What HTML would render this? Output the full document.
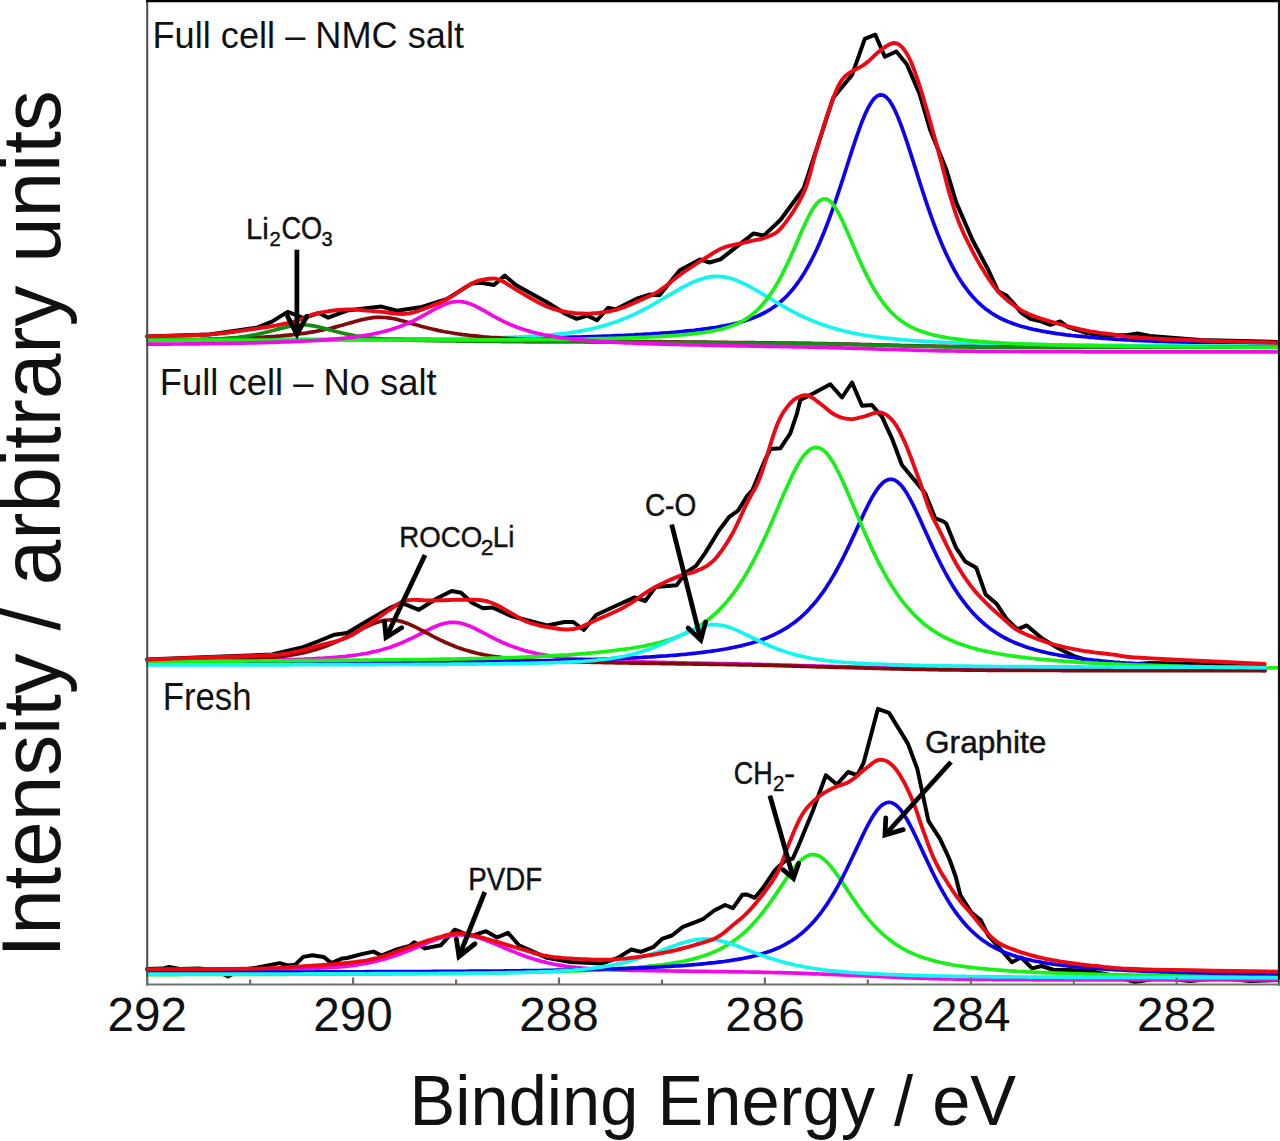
<!DOCTYPE html>
<html><head><meta charset="utf-8"><title>XPS C1s spectra</title><style>html,body{margin:0;padding:0;background:#fff;overflow:hidden}svg{display:block}text{fill:#111}</style></head>
<body><svg width="1280" height="1141" viewBox="0 0 1280 1141"><rect width="1280" height="1141" fill="#fff"/><path d="M147.0,336.5 L209.5,334.6 L256.4,327.8 L272.0,321.6 L287.6,311.9 L297.0,315.3 L303.0,318.0 L318.9,313.0 L328.2,317.7 L347.0,310.6 L381.4,306.6 L397.0,310.8 L422.0,306.9 L447.0,299.0 L472.0,283.4 L481.0,282.7 L493.9,285.0 L504.8,275.6 L515.8,285.0 L547.0,302.3 L565.8,314.0 L576.7,318.8 L587.6,315.6 L597.0,320.3 L608.0,307.8 L615.8,309.4 L637.6,298.4 L650.0,294.5 L659.5,295.3 L679.8,270.3 L700.0,259.4 L709.5,262.5 L720.4,259.4 L734.5,248.4 L747.0,238.7 L753.3,233.5 L763.8,235.6 L780.6,219.8 L803.8,188.2 L833.2,97.8 L852.2,74.7 L864.8,38.9 L875.3,34.7 L884.8,56.8 L896.3,51.5 L906.8,64.2 L919.5,93.6 L930.0,129.4 L946.5,170.0 L956.2,202.4 L972.4,239.7 L988.6,270.5 L998.3,291.6 L1006.5,295.6 L1014.6,304.5 L1021.0,312.6 L1030.8,319.1 L1038.9,320.7 L1050.2,324.8 L1060.0,321.5 L1068.0,327.2 L1085.9,332.9 L1102.0,335.3 L1126.4,335.3 L1137.5,333.5 L1150.0,336.0 L1200.0,340.0 L1277.0,342.0" fill="none" stroke="#000" stroke-width="4.0" stroke-linejoin="round" stroke-linecap="round" />
<path d="M148.0,340.0 L151.0,340.0 L154.0,340.0 L157.0,340.0 L160.0,340.0 L163.0,340.0 L166.0,340.0 L169.0,340.0 L172.0,340.0 L175.0,340.0 L178.0,339.9 L181.0,339.9 L184.0,339.9 L187.0,339.9 L190.0,339.9 L193.0,339.9 L196.0,339.9 L199.0,339.9 L202.0,339.9 L205.0,339.9 L208.0,339.9 L211.0,339.9 L214.0,339.8 L217.0,339.8 L220.0,339.8 L223.0,339.8 L226.0,339.8 L229.0,339.8 L232.0,339.8 L235.0,339.8 L238.0,339.8 L241.0,339.8 L244.0,339.8 L247.0,339.8 L250.0,339.7 L253.0,339.7 L256.0,339.7 L259.0,339.7 L262.0,339.7 L265.0,339.7 L268.0,339.7 L271.0,339.7 L274.0,339.7 L277.0,339.7 L280.0,339.7 L283.0,339.7 L286.0,339.6 L289.0,339.6 L292.0,339.6 L295.0,339.6 L298.0,339.6 L301.0,339.6 L304.0,339.6 L307.0,339.6 L310.0,339.6 L313.0,339.6 L316.0,339.6 L319.0,339.5 L322.0,339.5 L325.0,339.5 L328.0,339.5 L331.0,339.5 L334.0,339.5 L337.0,339.5 L340.0,339.5 L343.0,339.5 L346.0,339.5 L349.0,339.5 L352.0,339.4 L355.0,339.4 L358.0,339.4 L361.0,339.4 L364.0,339.4 L367.0,339.4 L370.0,339.4 L373.0,339.4 L376.0,339.4 L379.0,339.3 L382.0,339.3 L385.0,339.3 L388.0,339.3 L391.0,339.3 L394.0,339.3 L397.0,339.2 L400.0,339.2 L403.0,339.2 L406.0,339.2 L409.0,339.2 L412.0,339.2 L415.0,339.1 L418.0,339.1 L421.0,339.1 L424.0,339.1 L427.0,339.1 L430.0,339.0 L433.0,339.0 L436.0,339.0 L439.0,339.0 L442.0,339.0 L445.0,338.9 L448.0,338.9 L451.0,338.9 L454.0,338.9 L457.0,338.8 L460.0,338.8 L463.0,338.8 L466.0,338.8 L469.0,338.8 L472.0,338.7 L475.0,338.7 L478.0,338.7 L481.0,338.7 L484.0,338.6 L487.0,338.6 L490.0,338.6 L493.0,338.6 L496.0,338.5 L499.0,338.5 L502.0,338.5 L505.0,338.4 L508.0,338.4 L511.0,338.4 L514.0,338.3 L517.0,338.3 L520.0,338.2 L523.0,338.2 L526.0,338.2 L529.0,338.1 L532.0,338.1 L535.0,338.0 L538.0,338.0 L541.0,337.9 L544.0,337.8 L547.0,337.8 L550.0,337.7 L553.0,337.7 L556.0,337.6 L559.0,337.5 L562.0,337.5 L565.0,337.4 L568.0,337.3 L571.0,337.2 L574.0,337.1 L577.0,337.1 L580.0,337.0 L583.0,336.9 L586.0,336.8 L589.0,336.7 L592.0,336.6 L595.0,336.5 L598.0,336.4 L601.0,336.3 L604.0,336.2 L607.0,336.1 L610.0,336.0 L613.0,335.8 L616.0,335.7 L619.0,335.6 L622.0,335.5 L625.0,335.3 L628.0,335.2 L631.0,335.0 L634.0,334.9 L637.0,334.7 L640.0,334.6 L643.0,334.4 L646.0,334.2 L649.0,334.0 L652.0,333.9 L655.0,333.7 L658.0,333.5 L661.0,333.2 L664.0,333.0 L667.0,332.8 L670.0,332.6 L673.0,332.3 L676.0,332.1 L679.0,331.8 L682.0,331.5 L685.0,331.2 L688.0,330.9 L691.0,330.6 L694.0,330.3 L697.0,329.9 L700.0,329.6 L703.0,329.2 L706.0,328.8 L709.0,328.4 L712.0,327.9 L715.0,327.5 L718.0,327.0 L721.0,326.4 L724.0,325.9 L727.0,325.3 L730.0,324.7 L733.0,324.0 L736.0,323.3 L739.0,322.5 L742.0,321.7 L745.0,320.8 L748.0,319.8 L751.0,318.7 L754.0,317.6 L757.0,316.4 L760.0,315.0 L763.0,313.5 L766.0,311.9 L769.0,310.2 L772.0,308.3 L775.0,306.2 L778.0,303.9 L781.0,301.4 L784.0,298.7 L787.0,295.7 L790.0,292.5 L793.0,289.0 L796.0,285.2 L799.0,281.0 L802.0,276.6 L805.0,271.7 L808.0,266.5 L811.0,261.0 L814.0,255.0 L817.0,248.7 L820.0,242.0 L823.0,234.8 L826.0,227.3 L829.0,219.4 L832.0,211.2 L835.0,202.6 L838.0,193.7 L841.0,184.6 L844.0,175.4 L847.0,166.0 L850.0,156.6 L853.0,147.4 L856.0,138.4 L859.0,129.8 L862.0,121.7 L865.0,114.4 L868.0,108.1 L871.0,102.8 L874.0,98.7 L877.0,96.1 L880.0,94.8 L883.0,95.1 L886.0,96.9 L889.0,100.1 L892.0,104.7 L895.0,110.5 L898.0,117.3 L901.0,125.0 L904.0,133.3 L907.0,142.2 L910.0,151.4 L913.0,160.9 L916.0,170.4 L919.0,179.9 L922.0,189.3 L925.0,198.4 L928.0,207.3 L931.0,215.9 L934.0,224.2 L937.0,232.1 L940.0,239.6 L943.0,246.8 L946.0,253.5 L949.0,259.8 L952.0,265.7 L955.0,271.3 L958.0,276.4 L961.0,281.2 L964.0,285.6 L967.0,289.7 L970.0,293.5 L973.0,297.0 L976.0,300.2 L979.0,303.2 L982.0,305.9 L985.0,308.4 L988.0,310.6 L991.0,312.7 L994.0,314.6 L997.0,316.4 L1000.0,318.0 L1003.0,319.5 L1006.0,320.8 L1009.0,322.1 L1012.0,323.2 L1015.0,324.3 L1018.0,325.3 L1021.0,326.2 L1024.0,327.0 L1027.0,327.8 L1030.0,328.6 L1033.0,329.3 L1036.0,329.9 L1039.0,330.5 L1042.0,331.1 L1045.0,331.6 L1048.0,332.2 L1051.0,332.6 L1054.0,333.1 L1057.0,333.6 L1060.0,334.0 L1063.0,334.4 L1066.0,334.8 L1069.0,335.1 L1072.0,335.5 L1075.0,335.8 L1078.0,336.1 L1081.0,336.4 L1084.0,336.7 L1087.0,337.0 L1090.0,337.3 L1093.0,337.5 L1096.0,337.8 L1099.0,338.0 L1102.0,338.3 L1105.0,338.5 L1108.0,338.7 L1111.0,338.9 L1114.0,339.1 L1117.0,339.3 L1120.0,339.5 L1123.0,339.7 L1126.0,339.8 L1129.0,340.0 L1132.0,340.2 L1135.0,340.3 L1138.0,340.5 L1141.0,340.6 L1144.0,340.7 L1147.0,340.9 L1150.0,341.0 L1153.0,341.1 L1156.0,341.3 L1159.0,341.4 L1162.0,341.5 L1165.0,341.6 L1168.0,341.7 L1171.0,341.8 L1174.0,341.9 L1177.0,342.0 L1180.0,342.1 L1183.0,342.2 L1186.0,342.3 L1189.0,342.4 L1192.0,342.5 L1195.0,342.6 L1198.0,342.7 L1201.0,342.7 L1204.0,342.8 L1207.0,342.9 L1210.0,343.0 L1213.0,343.0 L1216.0,343.1 L1219.0,343.2 L1222.0,343.2 L1225.0,343.3 L1228.0,343.4 L1231.0,343.4 L1234.0,343.5 L1237.0,343.5 L1240.0,343.6 L1243.0,343.7 L1246.0,343.7 L1249.0,343.8 L1252.0,343.8 L1255.0,343.9 L1258.0,343.9 L1261.0,344.0 L1264.0,344.0 L1267.0,344.0 L1270.0,344.1 L1273.0,344.1 L1276.0,344.2 L1277.0,344.2" fill="none" stroke="#0c00ee" stroke-width="3.7" stroke-linejoin="round" stroke-linecap="round" />
<path d="M148.0,340.3 L151.0,340.3 L154.0,340.3 L157.0,340.3 L160.0,340.3 L163.0,340.3 L166.0,340.3 L169.0,340.3 L172.0,340.3 L175.0,340.3 L178.0,340.3 L181.0,340.2 L184.0,340.2 L187.0,340.2 L190.0,340.2 L193.0,340.2 L196.0,340.2 L199.0,340.2 L202.0,340.2 L205.0,340.2 L208.0,340.2 L211.0,340.2 L214.0,340.2 L217.0,340.1 L220.0,340.1 L223.0,340.1 L226.0,340.1 L229.0,340.1 L232.0,340.1 L235.0,340.1 L238.0,340.1 L241.0,340.1 L244.0,340.1 L247.0,340.1 L250.0,340.0 L253.0,340.0 L256.0,340.0 L259.0,340.0 L262.0,340.0 L265.0,340.0 L268.0,340.0 L271.0,340.0 L274.0,340.0 L277.0,340.0 L280.0,339.9 L283.0,339.9 L286.0,339.9 L289.0,339.9 L292.0,339.9 L295.0,339.9 L298.0,339.9 L301.0,339.9 L304.0,339.9 L307.0,339.8 L310.0,339.8 L313.0,339.8 L316.0,339.8 L319.0,339.8 L322.0,339.8 L325.0,339.8 L328.0,339.8 L331.0,339.7 L334.0,339.7 L337.0,339.7 L340.0,339.7 L343.0,339.7 L346.0,339.7 L349.0,339.7 L352.0,339.6 L355.0,339.6 L358.0,339.6 L361.0,339.6 L364.0,339.6 L367.0,339.6 L370.0,339.5 L373.0,339.5 L376.0,339.5 L379.0,339.5 L382.0,339.5 L385.0,339.4 L388.0,339.4 L391.0,339.4 L394.0,339.4 L397.0,339.3 L400.0,339.3 L403.0,339.3 L406.0,339.2 L409.0,339.2 L412.0,339.2 L415.0,339.1 L418.0,339.1 L421.0,339.1 L424.0,339.0 L427.0,339.0 L430.0,339.0 L433.0,338.9 L436.0,338.9 L439.0,338.9 L442.0,338.8 L445.0,338.8 L448.0,338.7 L451.0,338.7 L454.0,338.6 L457.0,338.6 L460.0,338.5 L463.0,338.5 L466.0,338.4 L469.0,338.4 L472.0,338.3 L475.0,338.3 L478.0,338.2 L481.0,338.1 L484.0,338.1 L487.0,338.0 L490.0,337.9 L493.0,337.8 L496.0,337.8 L499.0,337.7 L502.0,337.6 L505.0,337.5 L508.0,337.4 L511.0,337.3 L514.0,337.2 L517.0,337.0 L520.0,336.9 L523.0,336.8 L526.0,336.6 L529.0,336.4 L532.0,336.3 L535.0,336.1 L538.0,335.9 L541.0,335.7 L544.0,335.5 L547.0,335.2 L550.0,335.0 L553.0,334.7 L556.0,334.4 L559.0,334.1 L562.0,333.7 L565.0,333.4 L568.0,333.0 L571.0,332.6 L574.0,332.1 L577.0,331.6 L580.0,331.1 L583.0,330.6 L586.0,330.0 L589.0,329.4 L592.0,328.7 L595.0,328.0 L598.0,327.3 L601.0,326.5 L604.0,325.6 L607.0,324.7 L610.0,323.8 L613.0,322.8 L616.0,321.8 L619.0,320.7 L622.0,319.5 L625.0,318.3 L628.0,317.1 L631.0,315.7 L634.0,314.4 L637.0,312.9 L640.0,311.5 L643.0,310.0 L646.0,308.4 L649.0,306.8 L652.0,305.1 L655.0,303.4 L658.0,301.7 L661.0,300.0 L664.0,298.2 L667.0,296.4 L670.0,294.7 L673.0,292.9 L676.0,291.1 L679.0,289.4 L682.0,287.7 L685.0,286.1 L688.0,284.6 L691.0,283.1 L694.0,281.8 L697.0,280.5 L700.0,279.4 L703.0,278.5 L706.0,277.7 L709.0,277.1 L712.0,276.7 L715.0,276.4 L718.0,276.4 L721.0,276.6 L724.0,276.9 L727.0,277.5 L730.0,278.2 L733.0,279.1 L736.0,280.2 L739.0,281.4 L742.0,282.7 L745.0,284.1 L748.0,285.7 L751.0,287.3 L754.0,289.0 L757.0,290.7 L760.0,292.5 L763.0,294.3 L766.0,296.1 L769.0,297.9 L772.0,299.7 L775.0,301.5 L778.0,303.3 L781.0,305.0 L784.0,306.7 L787.0,308.4 L790.0,310.1 L793.0,311.6 L796.0,313.2 L799.0,314.7 L802.0,316.1 L805.0,317.5 L808.0,318.8 L811.0,320.1 L814.0,321.4 L817.0,322.5 L820.0,323.7 L823.0,324.8 L826.0,325.8 L829.0,326.8 L832.0,327.7 L835.0,328.6 L838.0,329.4 L841.0,330.2 L844.0,331.0 L847.0,331.7 L850.0,332.4 L853.0,333.0 L856.0,333.6 L859.0,334.2 L862.0,334.7 L865.0,335.2 L868.0,335.7 L871.0,336.2 L874.0,336.6 L877.0,337.0 L880.0,337.4 L883.0,337.8 L886.0,338.1 L889.0,338.4 L892.0,338.7 L895.0,339.0 L898.0,339.3 L901.0,339.6 L904.0,339.9 L907.0,340.1 L910.0,340.3 L913.0,340.6 L916.0,340.8 L919.0,341.0 L922.0,341.2 L925.0,341.4 L928.0,341.6 L931.0,341.7 L934.0,341.9 L937.0,342.0 L940.0,342.2 L943.0,342.3 L946.0,342.5 L949.0,342.6 L952.0,342.7 L955.0,342.8 L958.0,342.9 L961.0,343.0 L964.0,343.1 L967.0,343.2 L970.0,343.3 L973.0,343.4 L976.0,343.5 L979.0,343.6 L982.0,343.6 L985.0,343.7 L988.0,343.8 L991.0,343.9 L994.0,343.9 L997.0,344.0 L1000.0,344.0 L1003.0,344.1 L1006.0,344.2 L1009.0,344.2 L1012.0,344.3 L1015.0,344.3 L1018.0,344.4 L1021.0,344.4 L1024.0,344.5 L1027.0,344.5 L1030.0,344.6 L1033.0,344.6 L1036.0,344.6 L1039.0,344.7 L1042.0,344.7 L1045.0,344.7 L1048.0,344.8 L1051.0,344.8 L1054.0,344.9 L1057.0,344.9 L1060.0,344.9 L1063.0,345.0 L1066.0,345.0 L1069.0,345.0 L1072.0,345.0 L1075.0,345.1 L1078.0,345.1 L1081.0,345.1 L1084.0,345.2 L1087.0,345.2 L1090.0,345.2 L1093.0,345.2 L1096.0,345.2 L1099.0,345.3 L1102.0,345.3 L1105.0,345.3 L1108.0,345.3 L1111.0,345.4 L1114.0,345.4 L1117.0,345.4 L1120.0,345.4 L1123.0,345.4 L1126.0,345.5 L1129.0,345.5 L1132.0,345.5 L1135.0,345.5 L1138.0,345.5 L1141.0,345.5 L1144.0,345.6 L1147.0,345.6 L1150.0,345.6 L1153.0,345.6 L1156.0,345.6 L1159.0,345.6 L1162.0,345.6 L1165.0,345.7 L1168.0,345.7 L1171.0,345.7 L1174.0,345.7 L1177.0,345.7 L1180.0,345.7 L1183.0,345.7 L1186.0,345.7 L1189.0,345.8 L1192.0,345.8 L1195.0,345.8 L1198.0,345.8 L1201.0,345.8 L1204.0,345.8 L1207.0,345.8 L1210.0,345.8 L1213.0,345.8 L1216.0,345.9 L1219.0,345.9 L1222.0,345.9 L1225.0,345.9 L1228.0,345.9 L1231.0,345.9 L1234.0,345.9 L1237.0,345.9 L1240.0,345.9 L1243.0,345.9 L1246.0,345.9 L1249.0,346.0 L1252.0,346.0 L1255.0,346.0 L1258.0,346.0 L1261.0,346.0 L1264.0,346.0 L1267.0,346.0 L1270.0,346.0 L1273.0,346.0 L1276.0,346.0 L1277.0,346.0" fill="none" stroke="#14f5f0" stroke-width="3.7" stroke-linejoin="round" stroke-linecap="round" />
<path d="M148.0,340.3 L151.0,340.2 L154.0,340.2 L157.0,340.2 L160.0,340.1 L163.0,340.1 L166.0,340.0 L169.0,340.0 L172.0,340.0 L175.0,339.9 L178.0,339.9 L181.0,339.8 L184.0,339.8 L187.0,339.7 L190.0,339.7 L193.0,339.6 L196.0,339.6 L199.0,339.5 L202.0,339.4 L205.0,339.4 L208.0,339.3 L211.0,339.2 L214.0,339.2 L217.0,339.1 L220.0,339.0 L223.0,338.9 L226.0,338.8 L229.0,338.7 L232.0,338.6 L235.0,338.5 L238.0,338.4 L241.0,338.3 L244.0,338.2 L247.0,338.0 L250.0,337.9 L253.0,337.8 L256.0,337.6 L259.0,337.4 L262.0,337.3 L265.0,337.1 L268.0,336.9 L271.0,336.7 L274.0,336.5 L277.0,336.2 L280.0,336.0 L283.0,335.7 L286.0,335.4 L289.0,335.1 L292.0,334.8 L295.0,334.5 L298.0,334.1 L301.0,333.7 L304.0,333.3 L307.0,332.9 L310.0,332.4 L313.0,331.9 L316.0,331.4 L319.0,330.8 L322.0,330.2 L325.0,329.5 L328.0,328.9 L331.0,328.2 L334.0,327.4 L337.0,326.6 L340.0,325.8 L343.0,325.0 L346.0,324.1 L349.0,323.2 L352.0,322.4 L355.0,321.5 L358.0,320.7 L361.0,319.9 L364.0,319.2 L367.0,318.6 L370.0,318.1 L373.0,317.7 L376.0,317.4 L379.0,317.3 L382.0,317.3 L385.0,317.5 L388.0,317.8 L391.0,318.2 L394.0,318.8 L397.0,319.4 L400.0,320.2 L403.0,321.0 L406.0,321.8 L409.0,322.7 L412.0,323.6 L415.0,324.4 L418.0,325.3 L421.0,326.2 L424.0,327.0 L427.0,327.8 L430.0,328.5 L433.0,329.2 L436.0,329.9 L439.0,330.6 L442.0,331.2 L445.0,331.8 L448.0,332.3 L451.0,332.8 L454.0,333.3 L457.0,333.7 L460.0,334.2 L463.0,334.6 L466.0,334.9 L469.0,335.3 L472.0,335.6 L475.0,335.9 L478.0,336.2 L481.0,336.5 L484.0,336.8 L487.0,337.0 L490.0,337.3 L493.0,337.5 L496.0,337.7 L499.0,337.9 L502.0,338.1 L505.0,338.3 L508.0,338.4 L511.0,338.6 L514.0,338.7 L517.0,338.9 L520.0,339.0 L523.0,339.1 L526.0,339.3 L529.0,339.4 L532.0,339.5 L535.0,339.6 L538.0,339.7 L541.0,339.8 L544.0,339.9 L547.0,340.0 L550.0,340.1 L553.0,340.1 L556.0,340.2 L559.0,340.3 L562.0,340.4 L565.0,340.4 L568.0,340.5 L571.0,340.5 L574.0,340.6 L577.0,340.7 L580.0,340.7 L583.0,340.8 L586.0,340.8 L589.0,340.9 L592.0,340.9 L595.0,341.0 L598.0,341.0 L601.0,341.1 L604.0,341.1 L607.0,341.1 L610.0,341.2 L613.0,341.2 L616.0,341.3 L619.0,341.3 L622.0,341.3 L625.0,341.4 L628.0,341.4 L631.0,341.4 L634.0,341.5 L637.0,341.5 L640.0,341.5 L643.0,341.6 L646.0,341.6 L649.0,341.6 L652.0,341.7 L655.0,341.7 L658.0,341.7 L661.0,341.7 L664.0,341.8 L667.0,341.8 L670.0,341.8 L673.0,341.9 L676.0,341.9 L679.0,341.9 L682.0,342.0 L685.0,342.0 L688.0,342.0 L691.0,342.1 L694.0,342.1 L697.0,342.1 L700.0,342.2 L703.0,342.2 L706.0,342.2 L709.0,342.3 L712.0,342.3 L715.0,342.3 L718.0,342.3 L721.0,342.4 L724.0,342.4 L727.0,342.4 L730.0,342.5 L733.0,342.5 L736.0,342.5 L739.0,342.6 L742.0,342.6 L745.0,342.6 L748.0,342.7 L751.0,342.7 L754.0,342.7 L757.0,342.8 L760.0,342.8 L763.0,342.8 L766.0,342.9 L769.0,342.9 L772.0,342.9 L775.0,343.0 L778.0,343.0 L781.0,343.0 L784.0,343.1 L787.0,343.1 L790.0,343.1 L793.0,343.2 L796.0,343.2 L799.0,343.3 L802.0,343.3 L805.0,343.3 L808.0,343.4 L811.0,343.4 L814.0,343.5 L817.0,343.5 L820.0,343.6 L823.0,343.6 L826.0,343.7 L829.0,343.8 L832.0,343.8 L835.0,343.9 L838.0,344.0 L841.0,344.0 L844.0,344.1 L847.0,344.2 L850.0,344.2 L853.0,344.3 L856.0,344.4 L859.0,344.4 L862.0,344.5 L865.0,344.6 L868.0,344.7 L871.0,344.7 L874.0,344.8 L877.0,344.9 L880.0,345.0 L883.0,345.0 L886.0,345.1 L889.0,345.2 L892.0,345.3 L895.0,345.3 L898.0,345.4 L901.0,345.5 L904.0,345.6 L907.0,345.6 L910.0,345.7 L913.0,345.8 L916.0,345.9 L919.0,345.9 L922.0,346.0 L925.0,346.1 L928.0,346.1 L931.0,346.2 L934.0,346.2 L937.0,346.3 L940.0,346.3 L943.0,346.4 L946.0,346.4 L949.0,346.5 L952.0,346.5 L955.0,346.5 L958.0,346.6 L961.0,346.6 L964.0,346.6 L967.0,346.7 L970.0,346.7 L973.0,346.7 L976.0,346.7 L979.0,346.8 L982.0,346.8 L985.0,346.8 L988.0,346.8 L991.0,346.8 L994.0,346.9 L997.0,346.9 L1000.0,346.9 L1003.0,346.9 L1006.0,346.9 L1009.0,346.9 L1012.0,346.9 L1015.0,346.9 L1018.0,347.0 L1021.0,347.0 L1024.0,347.0 L1027.0,347.0 L1030.0,347.0 L1033.0,347.0 L1036.0,347.0 L1039.0,347.0 L1042.0,347.0 L1045.0,347.0 L1048.0,347.0 L1051.0,347.0 L1054.0,347.1 L1057.0,347.1 L1060.0,347.1 L1063.0,347.1 L1066.0,347.1 L1069.0,347.1 L1072.0,347.1 L1075.0,347.1 L1078.0,347.1 L1081.0,347.1 L1084.0,347.1 L1087.0,347.1 L1090.0,347.1 L1093.0,347.1 L1096.0,347.1 L1099.0,347.1 L1102.0,347.1 L1105.0,347.1 L1108.0,347.1 L1111.0,347.1 L1114.0,347.1 L1117.0,347.1 L1120.0,347.1 L1123.0,347.1 L1126.0,347.1 L1129.0,347.1 L1132.0,347.2 L1135.0,347.2 L1138.0,347.2 L1141.0,347.2 L1144.0,347.2 L1147.0,347.2 L1150.0,347.2 L1153.0,347.2 L1156.0,347.2 L1159.0,347.2 L1162.0,347.2 L1165.0,347.2 L1168.0,347.2 L1171.0,347.2 L1174.0,347.2 L1177.0,347.2 L1180.0,347.2 L1183.0,347.2 L1186.0,347.2 L1189.0,347.2 L1192.0,347.2 L1195.0,347.2 L1198.0,347.2 L1201.0,347.2 L1204.0,347.2 L1207.0,347.2 L1210.0,347.2 L1213.0,347.2 L1216.0,347.2 L1219.0,347.2 L1222.0,347.2 L1225.0,347.2 L1228.0,347.2 L1231.0,347.2 L1234.0,347.2 L1237.0,347.2 L1240.0,347.2 L1243.0,347.2 L1246.0,347.2 L1249.0,347.2 L1252.0,347.2 L1255.0,347.2 L1258.0,347.2 L1261.0,347.2 L1264.0,347.2 L1267.0,347.2 L1270.0,347.2 L1273.0,347.2 L1276.0,347.2 L1277.0,347.2" fill="none" stroke="#820a0a" stroke-width="3.7" stroke-linejoin="round" stroke-linecap="round" />
<path d="M148.0,340.6 L151.0,340.6 L154.0,340.5 L157.0,340.5 L160.0,340.5 L163.0,340.4 L166.0,340.4 L169.0,340.4 L172.0,340.3 L175.0,340.3 L178.0,340.2 L181.0,340.2 L184.0,340.1 L187.0,340.1 L190.0,340.0 L193.0,339.9 L196.0,339.8 L199.0,339.8 L202.0,339.7 L205.0,339.6 L208.0,339.5 L211.0,339.3 L214.0,339.2 L217.0,339.0 L220.0,338.9 L223.0,338.7 L226.0,338.4 L229.0,338.2 L232.0,337.9 L235.0,337.6 L238.0,337.3 L241.0,336.9 L244.0,336.5 L247.0,336.1 L250.0,335.6 L253.0,335.0 L256.0,334.5 L259.0,333.9 L262.0,333.2 L265.0,332.5 L268.0,331.8 L271.0,331.0 L274.0,330.2 L277.0,329.4 L280.0,328.6 L283.0,327.9 L286.0,327.1 L289.0,326.4 L292.0,325.9 L295.0,325.4 L298.0,325.1 L301.0,324.9 L304.0,324.9 L307.0,325.0 L310.0,325.4 L313.0,325.8 L316.0,326.4 L319.0,327.0 L322.0,327.8 L325.0,328.6 L328.0,329.4 L331.0,330.2 L334.0,331.0 L337.0,331.8 L340.0,332.5 L343.0,333.2 L346.0,333.9 L349.0,334.5 L352.0,335.1 L355.0,335.7 L358.0,336.2 L361.0,336.6 L364.0,337.0 L367.0,337.4 L370.0,337.8 L373.0,338.1 L376.0,338.4 L379.0,338.6 L382.0,338.9 L385.0,339.1 L388.0,339.3 L391.0,339.4 L394.0,339.6 L397.0,339.7 L400.0,339.8 L403.0,340.0 L406.0,340.1 L409.0,340.2 L412.0,340.2 L415.0,340.3 L418.0,340.4 L421.0,340.5 L424.0,340.5 L427.0,340.6 L430.0,340.6 L433.0,340.7 L436.0,340.7 L439.0,340.8 L442.0,340.8 L445.0,340.9 L448.0,340.9 L451.0,341.0 L454.0,341.0 L457.0,341.1 L460.0,341.1 L463.0,341.1 L466.0,341.2 L469.0,341.2 L472.0,341.2 L475.0,341.3 L478.0,341.3 L481.0,341.3 L484.0,341.4 L487.0,341.4 L490.0,341.4 L493.0,341.5 L496.0,341.5 L499.0,341.5 L502.0,341.6 L505.0,341.6 L508.0,341.6 L511.0,341.6 L514.0,341.7 L517.0,341.7 L520.0,341.7 L523.0,341.7 L526.0,341.8 L529.0,341.8 L532.0,341.8 L535.0,341.8 L538.0,341.8 L541.0,341.9 L544.0,341.9 L547.0,341.9 L550.0,341.9 L553.0,341.9 L556.0,341.9 L559.0,341.9 L562.0,342.0 L565.0,342.0 L568.0,342.0 L571.0,342.0 L574.0,342.0 L577.0,342.0 L580.0,342.0 L583.0,342.0 L586.0,342.1 L589.0,342.1 L592.0,342.1 L595.0,342.1 L598.0,342.1 L601.0,342.1 L604.0,342.1 L607.0,342.1 L610.0,342.1 L613.0,342.2 L616.0,342.2 L619.0,342.2 L622.0,342.2 L625.0,342.2 L628.0,342.2 L631.0,342.2 L634.0,342.2 L637.0,342.3 L640.0,342.3 L643.0,342.3 L646.0,342.3 L649.0,342.3 L652.0,342.3 L655.0,342.3 L658.0,342.4 L661.0,342.4 L664.0,342.4 L667.0,342.4 L670.0,342.4 L673.0,342.4 L676.0,342.5 L679.0,342.5 L682.0,342.5 L685.0,342.5 L688.0,342.5 L691.0,342.6 L694.0,342.6 L697.0,342.6 L700.0,342.6 L703.0,342.6 L706.0,342.7 L709.0,342.7 L712.0,342.7 L715.0,342.7 L718.0,342.8 L721.0,342.8 L724.0,342.8 L727.0,342.8 L730.0,342.9 L733.0,342.9 L736.0,342.9 L739.0,342.9 L742.0,343.0 L745.0,343.0 L748.0,343.0 L751.0,343.1 L754.0,343.1 L757.0,343.1 L760.0,343.1 L763.0,343.2 L766.0,343.2 L769.0,343.2 L772.0,343.3 L775.0,343.3 L778.0,343.3 L781.0,343.3 L784.0,343.4 L787.0,343.4 L790.0,343.4 L793.0,343.5 L796.0,343.5 L799.0,343.5 L802.0,343.6 L805.0,343.6 L808.0,343.7 L811.0,343.7 L814.0,343.8 L817.0,343.8 L820.0,343.9 L823.0,343.9 L826.0,344.0 L829.0,344.0 L832.0,344.1 L835.0,344.2 L838.0,344.2 L841.0,344.3 L844.0,344.4 L847.0,344.4 L850.0,344.5 L853.0,344.6 L856.0,344.7 L859.0,344.7 L862.0,344.8 L865.0,344.9 L868.0,345.0 L871.0,345.0 L874.0,345.1 L877.0,345.2 L880.0,345.3 L883.0,345.3 L886.0,345.4 L889.0,345.5 L892.0,345.6 L895.0,345.7 L898.0,345.7 L901.0,345.8 L904.0,345.9 L907.0,346.0 L910.0,346.1 L913.0,346.1 L916.0,346.2 L919.0,346.3 L922.0,346.3 L925.0,346.4 L928.0,346.5 L931.0,346.5 L934.0,346.6 L937.0,346.6 L940.0,346.7 L943.0,346.7 L946.0,346.8 L949.0,346.8 L952.0,346.9 L955.0,346.9 L958.0,346.9 L961.0,347.0 L964.0,347.0 L967.0,347.0 L970.0,347.1 L973.0,347.1 L976.0,347.1 L979.0,347.1 L982.0,347.2 L985.0,347.2 L988.0,347.2 L991.0,347.2 L994.0,347.2 L997.0,347.2 L1000.0,347.3 L1003.0,347.3 L1006.0,347.3 L1009.0,347.3 L1012.0,347.3 L1015.0,347.3 L1018.0,347.3 L1021.0,347.3 L1024.0,347.3 L1027.0,347.3 L1030.0,347.4 L1033.0,347.4 L1036.0,347.4 L1039.0,347.4 L1042.0,347.4 L1045.0,347.4 L1048.0,347.4 L1051.0,347.4 L1054.0,347.4 L1057.0,347.4 L1060.0,347.4 L1063.0,347.4 L1066.0,347.4 L1069.0,347.4 L1072.0,347.4 L1075.0,347.4 L1078.0,347.4 L1081.0,347.4 L1084.0,347.4 L1087.0,347.4 L1090.0,347.5 L1093.0,347.5 L1096.0,347.5 L1099.0,347.5 L1102.0,347.5 L1105.0,347.5 L1108.0,347.5 L1111.0,347.5 L1114.0,347.5 L1117.0,347.5 L1120.0,347.5 L1123.0,347.5 L1126.0,347.5 L1129.0,347.5 L1132.0,347.5 L1135.0,347.5 L1138.0,347.5 L1141.0,347.5 L1144.0,347.5 L1147.0,347.5 L1150.0,347.5 L1153.0,347.5 L1156.0,347.5 L1159.0,347.5 L1162.0,347.5 L1165.0,347.5 L1168.0,347.5 L1171.0,347.5 L1174.0,347.5 L1177.0,347.5 L1180.0,347.5 L1183.0,347.5 L1186.0,347.5 L1189.0,347.5 L1192.0,347.5 L1195.0,347.5 L1198.0,347.5 L1201.0,347.5 L1204.0,347.5 L1207.0,347.5 L1210.0,347.5 L1213.0,347.5 L1216.0,347.5 L1219.0,347.5 L1222.0,347.5 L1225.0,347.5 L1228.0,347.5 L1231.0,347.5 L1234.0,347.5 L1237.0,347.5 L1240.0,347.5 L1243.0,347.5 L1246.0,347.5 L1249.0,347.5 L1252.0,347.5 L1255.0,347.5 L1258.0,347.5 L1261.0,347.5 L1264.0,347.5 L1267.0,347.5 L1270.0,347.5 L1273.0,347.5 L1276.0,347.5 L1277.0,347.5" fill="none" stroke="#148c14" stroke-width="3.7" stroke-linejoin="round" stroke-linecap="round" />
<path d="M148.0,340.1 L151.0,340.1 L154.0,340.1 L157.0,340.1 L160.0,340.1 L163.0,340.1 L166.0,340.1 L169.0,340.1 L172.0,340.1 L175.0,340.1 L178.0,340.1 L181.0,340.1 L184.0,340.1 L187.0,340.1 L190.0,340.1 L193.0,340.1 L196.0,340.1 L199.0,340.1 L202.0,340.1 L205.0,340.1 L208.0,340.1 L211.0,340.1 L214.0,340.1 L217.0,340.1 L220.0,340.1 L223.0,340.1 L226.0,340.1 L229.0,340.1 L232.0,340.0 L235.0,340.0 L238.0,340.0 L241.0,340.0 L244.0,340.0 L247.0,340.0 L250.0,340.0 L253.0,340.0 L256.0,340.0 L259.0,340.0 L262.0,340.0 L265.0,340.0 L268.0,340.0 L271.0,340.0 L274.0,340.0 L277.0,340.0 L280.0,340.0 L283.0,340.0 L286.0,340.0 L289.0,340.0 L292.0,340.0 L295.0,340.0 L298.0,340.0 L301.0,340.0 L304.0,340.0 L307.0,340.0 L310.0,340.0 L313.0,340.0 L316.0,340.0 L319.0,340.0 L322.0,340.0 L325.0,340.0 L328.0,340.0 L331.0,340.0 L334.0,340.0 L337.0,340.0 L340.0,340.0 L343.0,340.0 L346.0,340.0 L349.0,340.0 L352.0,340.0 L355.0,340.0 L358.0,340.0 L361.0,340.0 L364.0,340.0 L367.0,340.0 L370.0,340.0 L373.0,340.0 L376.0,340.0 L379.0,340.0 L382.0,340.0 L385.0,340.0 L388.0,340.0 L391.0,340.0 L394.0,340.0 L397.0,340.0 L400.0,340.0 L403.0,340.0 L406.0,340.0 L409.0,340.0 L412.0,340.0 L415.0,340.0 L418.0,340.0 L421.0,339.9 L424.0,339.9 L427.0,339.9 L430.0,339.9 L433.0,339.9 L436.0,339.9 L439.0,339.9 L442.0,339.9 L445.0,339.9 L448.0,339.9 L451.0,339.9 L454.0,339.9 L457.0,339.9 L460.0,339.9 L463.0,339.9 L466.0,339.9 L469.0,339.9 L472.0,339.9 L475.0,339.9 L478.0,339.9 L481.0,339.9 L484.0,339.9 L487.0,339.9 L490.0,339.9 L493.0,339.8 L496.0,339.8 L499.0,339.8 L502.0,339.8 L505.0,339.8 L508.0,339.8 L511.0,339.8 L514.0,339.8 L517.0,339.8 L520.0,339.8 L523.0,339.7 L526.0,339.7 L529.0,339.7 L532.0,339.7 L535.0,339.6 L538.0,339.6 L541.0,339.6 L544.0,339.6 L547.0,339.5 L550.0,339.5 L553.0,339.5 L556.0,339.4 L559.0,339.4 L562.0,339.4 L565.0,339.3 L568.0,339.3 L571.0,339.2 L574.0,339.2 L577.0,339.1 L580.0,339.1 L583.0,339.0 L586.0,339.0 L589.0,338.9 L592.0,338.8 L595.0,338.8 L598.0,338.7 L601.0,338.6 L604.0,338.6 L607.0,338.5 L610.0,338.4 L613.0,338.3 L616.0,338.3 L619.0,338.2 L622.0,338.1 L625.0,338.0 L628.0,337.9 L631.0,337.8 L634.0,337.7 L637.0,337.6 L640.0,337.4 L643.0,337.3 L646.0,337.2 L649.0,337.0 L652.0,336.9 L655.0,336.7 L658.0,336.6 L661.0,336.4 L664.0,336.2 L667.0,336.0 L670.0,335.8 L673.0,335.6 L676.0,335.4 L679.0,335.2 L682.0,334.9 L685.0,334.6 L688.0,334.4 L691.0,334.1 L694.0,333.7 L697.0,333.4 L700.0,333.0 L703.0,332.6 L706.0,332.1 L709.0,331.7 L712.0,331.1 L715.0,330.5 L718.0,329.9 L721.0,329.2 L724.0,328.4 L727.0,327.5 L730.0,326.5 L733.0,325.5 L736.0,324.2 L739.0,322.8 L742.0,321.3 L745.0,319.6 L748.0,317.6 L751.0,315.4 L754.0,313.0 L757.0,310.3 L760.0,307.3 L763.0,304.0 L766.0,300.3 L769.0,296.3 L772.0,291.9 L775.0,287.2 L778.0,282.1 L781.0,276.6 L784.0,270.7 L787.0,264.5 L790.0,258.1 L793.0,251.3 L796.0,244.5 L799.0,237.5 L802.0,230.6 L805.0,224.0 L808.0,217.7 L811.0,212.0 L814.0,207.0 L817.0,203.1 L820.0,200.4 L823.0,199.0 L826.0,199.0 L829.0,200.4 L832.0,203.1 L835.0,207.1 L838.0,212.0 L841.0,217.8 L844.0,224.2 L847.0,231.0 L850.0,238.0 L853.0,245.0 L856.0,252.1 L859.0,258.9 L862.0,265.6 L865.0,271.9 L868.0,277.9 L871.0,283.6 L874.0,288.9 L877.0,293.8 L880.0,298.3 L883.0,302.5 L886.0,306.3 L889.0,309.8 L892.0,313.0 L895.0,315.8 L898.0,318.4 L901.0,320.7 L904.0,322.8 L907.0,324.7 L910.0,326.4 L913.0,327.9 L916.0,329.3 L919.0,330.5 L922.0,331.6 L925.0,332.6 L928.0,333.5 L931.0,334.3 L934.0,335.1 L937.0,335.7 L940.0,336.4 L943.0,336.9 L946.0,337.5 L949.0,338.0 L952.0,338.4 L955.0,338.8 L958.0,339.2 L961.0,339.6 L964.0,340.0 L967.0,340.3 L970.0,340.6 L973.0,340.9 L976.0,341.1 L979.0,341.4 L982.0,341.6 L985.0,341.9 L988.0,342.1 L991.0,342.3 L994.0,342.5 L997.0,342.7 L1000.0,342.9 L1003.0,343.0 L1006.0,343.2 L1009.0,343.3 L1012.0,343.5 L1015.0,343.6 L1018.0,343.8 L1021.0,343.9 L1024.0,344.0 L1027.0,344.1 L1030.0,344.2 L1033.0,344.3 L1036.0,344.4 L1039.0,344.5 L1042.0,344.6 L1045.0,344.7 L1048.0,344.8 L1051.0,344.9 L1054.0,345.0 L1057.0,345.1 L1060.0,345.1 L1063.0,345.2 L1066.0,345.3 L1069.0,345.3 L1072.0,345.4 L1075.0,345.5 L1078.0,345.5 L1081.0,345.6 L1084.0,345.6 L1087.0,345.7 L1090.0,345.7 L1093.0,345.8 L1096.0,345.8 L1099.0,345.9 L1102.0,345.9 L1105.0,346.0 L1108.0,346.0 L1111.0,346.1 L1114.0,346.1 L1117.0,346.1 L1120.0,346.2 L1123.0,346.2 L1126.0,346.3 L1129.0,346.3 L1132.0,346.3 L1135.0,346.4 L1138.0,346.4 L1141.0,346.4 L1144.0,346.5 L1147.0,346.5 L1150.0,346.5 L1153.0,346.5 L1156.0,346.6 L1159.0,346.6 L1162.0,346.6 L1165.0,346.6 L1168.0,346.7 L1171.0,346.7 L1174.0,346.7 L1177.0,346.7 L1180.0,346.8 L1183.0,346.8 L1186.0,346.8 L1189.0,346.8 L1192.0,346.8 L1195.0,346.9 L1198.0,346.9 L1201.0,346.9 L1204.0,346.9 L1207.0,346.9 L1210.0,346.9 L1213.0,347.0 L1216.0,347.0 L1219.0,347.0 L1222.0,347.0 L1225.0,347.0 L1228.0,347.0 L1231.0,347.0 L1234.0,347.1 L1237.0,347.1 L1240.0,347.1 L1243.0,347.1 L1246.0,347.1 L1249.0,347.1 L1252.0,347.1 L1255.0,347.1 L1258.0,347.2 L1261.0,347.2 L1264.0,347.2 L1267.0,347.2 L1270.0,347.2 L1273.0,347.2 L1276.0,347.2 L1277.0,347.2" fill="none" stroke="#18f018" stroke-width="3.7" stroke-linejoin="round" stroke-linecap="round" />
<path d="M148.0,344.2 L151.0,344.2 L154.0,344.2 L157.0,344.2 L160.0,344.1 L163.0,344.1 L166.0,344.1 L169.0,344.1 L172.0,344.0 L175.0,344.0 L178.0,344.0 L181.0,344.0 L184.0,343.9 L187.0,343.9 L190.0,343.9 L193.0,343.8 L196.0,343.8 L199.0,343.8 L202.0,343.7 L205.0,343.7 L208.0,343.6 L211.0,343.6 L214.0,343.6 L217.0,343.5 L220.0,343.5 L223.0,343.4 L226.0,343.4 L229.0,343.3 L232.0,343.3 L235.0,343.2 L238.0,343.2 L241.0,343.1 L244.0,343.1 L247.0,343.0 L250.0,342.9 L253.0,342.9 L256.0,342.8 L259.0,342.7 L262.0,342.6 L265.0,342.6 L268.0,342.5 L271.0,342.4 L274.0,342.3 L277.0,342.2 L280.0,342.1 L283.0,342.0 L286.0,341.9 L289.0,341.8 L292.0,341.7 L295.0,341.5 L298.0,341.4 L301.0,341.3 L304.0,341.1 L307.0,341.0 L310.0,340.8 L313.0,340.7 L316.0,340.5 L319.0,340.3 L322.0,340.1 L325.0,339.9 L328.0,339.7 L331.0,339.4 L334.0,339.2 L337.0,338.9 L340.0,338.6 L343.0,338.3 L346.0,338.0 L349.0,337.7 L352.0,337.3 L355.0,336.9 L358.0,336.5 L361.0,336.1 L364.0,335.6 L367.0,335.1 L370.0,334.6 L373.0,334.0 L376.0,333.4 L379.0,332.7 L382.0,332.0 L385.0,331.2 L388.0,330.4 L391.0,329.5 L394.0,328.6 L397.0,327.6 L400.0,326.5 L403.0,325.4 L406.0,324.1 L409.0,322.8 L412.0,321.4 L415.0,320.0 L418.0,318.4 L421.0,316.9 L424.0,315.2 L427.0,313.5 L430.0,311.8 L433.0,310.2 L436.0,308.5 L439.0,307.0 L442.0,305.5 L445.0,304.3 L448.0,303.2 L451.0,302.3 L454.0,301.8 L457.0,301.5 L460.0,301.5 L463.0,301.9 L466.0,302.5 L469.0,303.4 L472.0,304.6 L475.0,305.9 L478.0,307.4 L481.0,309.0 L484.0,310.7 L487.0,312.4 L490.0,314.1 L493.0,315.8 L496.0,317.5 L499.0,319.1 L502.0,320.6 L505.0,322.1 L508.0,323.5 L511.0,324.8 L514.0,326.0 L517.0,327.2 L520.0,328.3 L523.0,329.3 L526.0,330.3 L529.0,331.1 L532.0,332.0 L535.0,332.7 L538.0,333.5 L541.0,334.1 L544.0,334.8 L547.0,335.4 L550.0,335.9 L553.0,336.4 L556.0,336.9 L559.0,337.4 L562.0,337.8 L565.0,338.2 L568.0,338.5 L571.0,338.9 L574.0,339.2 L577.0,339.5 L580.0,339.8 L583.0,340.1 L586.0,340.4 L589.0,340.6 L592.0,340.8 L595.0,341.1 L598.0,341.3 L601.0,341.5 L604.0,341.7 L607.0,341.8 L610.0,342.0 L613.0,342.2 L616.0,342.3 L619.0,342.5 L622.0,342.6 L625.0,342.8 L628.0,342.9 L631.0,343.0 L634.0,343.1 L637.0,343.3 L640.0,343.4 L643.0,343.5 L646.0,343.6 L649.0,343.7 L652.0,343.8 L655.0,343.9 L658.0,344.0 L661.0,344.1 L664.0,344.1 L667.0,344.2 L670.0,344.3 L673.0,344.4 L676.0,344.5 L679.0,344.5 L682.0,344.6 L685.0,344.7 L688.0,344.8 L691.0,344.8 L694.0,344.9 L697.0,345.0 L700.0,345.0 L703.0,345.1 L706.0,345.2 L709.0,345.2 L712.0,345.3 L715.0,345.4 L718.0,345.4 L721.0,345.5 L724.0,345.6 L727.0,345.6 L730.0,345.7 L733.0,345.7 L736.0,345.8 L739.0,345.8 L742.0,345.9 L745.0,346.0 L748.0,346.0 L751.0,346.1 L754.0,346.1 L757.0,346.2 L760.0,346.2 L763.0,346.3 L766.0,346.3 L769.0,346.4 L772.0,346.4 L775.0,346.5 L778.0,346.5 L781.0,346.6 L784.0,346.6 L787.0,346.7 L790.0,346.7 L793.0,346.8 L796.0,346.9 L799.0,346.9 L802.0,347.0 L805.0,347.0 L808.0,347.1 L811.0,347.2 L814.0,347.2 L817.0,347.3 L820.0,347.4 L823.0,347.4 L826.0,347.5 L829.0,347.6 L832.0,347.7 L835.0,347.7 L838.0,347.8 L841.0,347.9 L844.0,348.0 L847.0,348.1 L850.0,348.2 L853.0,348.3 L856.0,348.4 L859.0,348.4 L862.0,348.5 L865.0,348.6 L868.0,348.7 L871.0,348.8 L874.0,348.9 L877.0,349.0 L880.0,349.1 L883.0,349.2 L886.0,349.3 L889.0,349.4 L892.0,349.5 L895.0,349.5 L898.0,349.6 L901.0,349.7 L904.0,349.8 L907.0,349.9 L910.0,350.0 L913.0,350.1 L916.0,350.2 L919.0,350.3 L922.0,350.3 L925.0,350.4 L928.0,350.5 L931.0,350.6 L934.0,350.6 L937.0,350.7 L940.0,350.8 L943.0,350.8 L946.0,350.9 L949.0,350.9 L952.0,351.0 L955.0,351.0 L958.0,351.1 L961.0,351.1 L964.0,351.1 L967.0,351.2 L970.0,351.2 L973.0,351.2 L976.0,351.3 L979.0,351.3 L982.0,351.3 L985.0,351.3 L988.0,351.4 L991.0,351.4 L994.0,351.4 L997.0,351.4 L1000.0,351.5 L1003.0,351.5 L1006.0,351.5 L1009.0,351.5 L1012.0,351.5 L1015.0,351.5 L1018.0,351.5 L1021.0,351.6 L1024.0,351.6 L1027.0,351.6 L1030.0,351.6 L1033.0,351.6 L1036.0,351.6 L1039.0,351.6 L1042.0,351.6 L1045.0,351.7 L1048.0,351.7 L1051.0,351.7 L1054.0,351.7 L1057.0,351.7 L1060.0,351.7 L1063.0,351.7 L1066.0,351.7 L1069.0,351.7 L1072.0,351.7 L1075.0,351.7 L1078.0,351.7 L1081.0,351.7 L1084.0,351.8 L1087.0,351.8 L1090.0,351.8 L1093.0,351.8 L1096.0,351.8 L1099.0,351.8 L1102.0,351.8 L1105.0,351.8 L1108.0,351.8 L1111.0,351.8 L1114.0,351.8 L1117.0,351.8 L1120.0,351.8 L1123.0,351.8 L1126.0,351.8 L1129.0,351.8 L1132.0,351.8 L1135.0,351.8 L1138.0,351.8 L1141.0,351.8 L1144.0,351.8 L1147.0,351.8 L1150.0,351.8 L1153.0,351.9 L1156.0,351.9 L1159.0,351.9 L1162.0,351.9 L1165.0,351.9 L1168.0,351.9 L1171.0,351.9 L1174.0,351.9 L1177.0,351.9 L1180.0,351.9 L1183.0,351.9 L1186.0,351.9 L1189.0,351.9 L1192.0,351.9 L1195.0,351.9 L1198.0,351.9 L1201.0,351.9 L1204.0,351.9 L1207.0,351.9 L1210.0,351.9 L1213.0,351.9 L1216.0,351.9 L1219.0,351.9 L1222.0,351.9 L1225.0,351.9 L1228.0,351.9 L1231.0,351.9 L1234.0,351.9 L1237.0,351.9 L1240.0,351.9 L1243.0,351.9 L1246.0,351.9 L1249.0,351.9 L1252.0,351.9 L1255.0,351.9 L1258.0,351.9 L1261.0,351.9 L1264.0,351.9 L1267.0,351.9 L1270.0,351.9 L1273.0,351.9 L1276.0,351.9 L1277.0,351.9" fill="none" stroke="#f00ae6" stroke-width="3.7" stroke-linejoin="round" stroke-linecap="round" />
<path d="M147.0,336.4 L151.9,336.3 L158.6,336.1 L166.5,336.0 L175.3,335.8 L184.5,335.5 L193.5,335.2 L202.0,334.8 L209.5,334.4 L216.2,333.9 L222.7,333.2 L228.9,332.5 L234.9,331.7 L240.6,330.9 L246.1,330.1 L251.4,329.3 L256.4,328.6 L261.2,327.9 L265.7,327.2 L269.9,326.5 L274.0,325.8 L277.7,325.1 L281.3,324.4 L284.6,323.7 L287.6,323.1 L290.3,322.5 L292.6,321.9 L294.6,321.3 L296.4,320.7 L298.0,320.2 L299.7,319.6 L301.4,319.0 L303.2,318.4 L305.1,317.7 L306.8,317.1 L308.5,316.3 L310.3,315.6 L312.1,314.9 L314.1,314.2 L316.3,313.6 L318.9,313.0 L321.8,312.4 L325.0,311.9 L328.4,311.3 L332.0,310.8 L335.7,310.3 L339.5,309.9 L343.3,309.7 L347.0,309.5 L350.8,309.5 L354.6,309.6 L358.6,309.9 L362.6,310.2 L366.6,310.6 L370.5,310.9 L374.3,311.3 L378.0,311.6 L381.6,311.9 L385.2,312.3 L388.6,312.8 L392.1,313.2 L395.4,313.6 L398.7,313.9 L401.8,314.0 L404.8,313.9 L407.6,313.6 L410.3,313.2 L412.8,312.6 L415.2,311.9 L417.6,311.1 L420.0,310.2 L422.4,309.3 L425.0,308.4 L427.6,307.5 L430.3,306.5 L433.0,305.4 L435.7,304.3 L438.5,303.2 L441.2,301.9 L444.1,300.5 L447.0,299.0 L450.0,297.3 L453.3,295.3 L456.6,293.1 L459.9,290.9 L463.2,288.7 L466.3,286.7 L469.3,284.9 L472.0,283.4 L474.4,282.3 L476.6,281.4 L478.7,280.7 L480.6,280.2 L482.4,279.8 L484.1,279.5 L485.9,279.2 L487.6,279.0 L489.3,278.8 L490.8,278.6 L492.2,278.5 L493.6,278.5 L495.0,278.6 L496.5,278.9 L498.2,279.3 L500.0,280.0 L502.0,280.9 L504.1,282.0 L506.2,283.3 L508.5,284.8 L510.9,286.3 L513.4,288.0 L516.1,289.6 L518.9,291.3 L522.0,293.1 L525.4,295.1 L529.0,297.2 L532.7,299.3 L536.4,301.4 L540.1,303.3 L543.6,305.1 L547.0,306.6 L550.1,307.8 L553.2,308.9 L556.1,309.7 L559.0,310.5 L561.8,311.1 L564.7,311.6 L567.5,312.1 L570.4,312.5 L573.3,312.9 L576.3,313.2 L579.2,313.4 L582.1,313.5 L585.1,313.6 L588.0,313.6 L591.0,313.5 L593.9,313.3 L596.8,313.1 L599.8,312.8 L602.7,312.4 L605.6,312.0 L608.5,311.5 L611.4,310.9 L614.4,310.2 L617.3,309.4 L620.3,308.5 L623.3,307.4 L626.3,306.3 L629.3,305.0 L632.3,303.8 L635.2,302.5 L638.0,301.2 L640.8,300.0 L643.3,298.9 L645.7,297.8 L648.1,296.7 L650.3,295.7 L652.6,294.6 L654.8,293.4 L657.1,292.1 L659.5,290.6 L661.9,288.9 L664.4,287.1 L666.9,285.2 L669.4,283.2 L671.9,281.1 L674.5,279.0 L677.1,277.0 L679.8,275.0 L682.6,273.0 L685.5,271.0 L688.5,269.0 L691.5,267.0 L694.5,265.0 L697.5,263.0 L700.4,261.2 L703.2,259.4 L705.9,257.7 L708.5,256.1 L711.0,254.5 L713.4,252.9 L715.9,251.5 L718.4,250.1 L720.9,248.8 L723.6,247.7 L726.4,246.7 L729.3,245.8 L732.3,245.1 L735.3,244.5 L738.3,243.9 L741.2,243.3 L744.2,242.7 L747.0,242.0 L749.8,241.3 L752.6,240.7 L755.3,240.2 L758.0,239.6 L760.7,239.0 L763.2,238.3 L765.7,237.5 L768.0,236.6 L770.1,235.7 L772.0,234.9 L773.7,234.1 L775.4,233.1 L777.0,232.0 L778.8,230.5 L780.6,228.6 L782.8,226.1 L785.1,223.1 L787.8,219.5 L790.6,215.5 L793.4,211.2 L796.2,206.7 L799.0,202.0 L801.5,197.2 L803.8,192.4 L805.8,187.6 L807.5,182.6 L809.1,177.4 L810.5,172.2 L811.9,166.8 L813.3,161.4 L814.8,155.9 L816.4,150.4 L818.2,144.7 L820.0,138.7 L821.9,132.5 L823.8,126.3 L825.6,120.2 L827.5,114.4 L829.3,109.0 L831.1,104.1 L832.7,99.8 L834.2,95.8 L835.6,92.2 L837.0,88.9 L838.4,85.9 L840.0,83.0 L841.7,80.3 L843.7,77.8 L846.0,75.5 L848.5,73.5 L851.2,71.8 L854.0,70.3 L856.8,68.8 L859.6,67.4 L862.3,65.9 L864.8,64.2 L867.1,62.3 L869.4,60.4 L871.6,58.4 L873.7,56.3 L875.7,54.4 L877.7,52.5 L879.7,50.9 L881.6,49.4 L883.5,48.1 L885.3,46.8 L887.1,45.7 L888.8,44.7 L890.5,43.9 L892.1,43.3 L893.7,43.0 L895.3,43.1 L896.8,43.5 L898.4,44.2 L899.8,45.2 L901.2,46.4 L902.7,47.8 L904.0,49.5 L905.4,51.5 L906.8,53.6 L908.1,55.9 L909.4,58.5 L910.7,61.3 L912.0,64.3 L913.2,67.5 L914.5,71.0 L915.9,74.8 L917.3,78.9 L918.8,83.3 L920.3,88.1 L921.9,93.3 L923.5,98.6 L925.1,104.2 L926.8,109.8 L928.4,115.4 L930.0,121.0 L931.6,126.7 L933.3,132.7 L935.0,138.9 L936.7,145.0 L938.3,151.1 L939.8,156.9 L941.3,162.3 L942.6,167.2 L943.7,171.5 L944.7,175.3 L945.6,178.7 L946.3,181.8 L947.1,184.8 L947.9,187.8 L948.7,190.9 L949.7,194.3 L950.8,197.9 L951.9,201.5 L953.0,205.2 L954.2,208.9 L955.4,212.6 L956.7,216.3 L958.0,219.9 L959.4,223.5 L960.9,227.1 L962.4,230.6 L964.0,234.1 L965.7,237.7 L967.4,241.1 L969.1,244.5 L970.8,247.8 L972.4,251.0 L974.0,254.1 L975.7,257.1 L977.3,260.1 L978.9,262.9 L980.5,265.8 L982.2,268.5 L983.8,271.1 L985.4,273.7 L987.0,276.2 L988.6,278.6 L990.2,281.0 L991.8,283.3 L993.3,285.5 L995.0,287.6 L996.6,289.6 L998.3,291.6 L1000.0,293.5 L1001.8,295.3 L1003.6,296.9 L1005.4,298.6 L1007.2,300.1 L1009.1,301.6 L1011.0,303.1 L1012.9,304.5 L1014.8,305.9 L1016.6,307.2 L1018.5,308.4 L1020.4,309.6 L1022.4,310.8 L1024.4,312.0 L1026.7,313.1 L1029.1,314.2 L1031.7,315.3 L1034.4,316.4 L1037.3,317.4 L1040.3,318.4 L1043.4,319.4 L1046.6,320.4 L1050.0,321.4 L1053.5,322.4 L1057.2,323.4 L1061.0,324.5 L1065.1,325.6 L1069.2,326.7 L1073.4,327.7 L1077.6,328.7 L1081.8,329.6 L1085.9,330.5 L1090.0,331.3 L1094.3,332.0 L1098.5,332.6 L1102.8,333.3 L1106.9,333.8 L1111.0,334.3 L1114.8,334.8 L1118.3,335.3 L1121.3,335.7 L1123.6,336.1 L1125.5,336.4 L1127.4,336.6 L1129.5,336.9 L1132.1,337.1 L1135.5,337.4 L1140.0,337.7 L1145.6,338.0 L1151.9,338.4 L1158.9,338.7 L1166.5,339.1 L1174.6,339.5 L1182.9,339.8 L1191.4,340.2 L1200.0,340.5 L1209.3,340.8 L1219.9,341.1 L1231.0,341.5 L1242.2,341.8 L1253.0,342.1 L1262.8,342.3 L1270.9,342.5 L1277.0,342.7" fill="none" stroke="#eb0a14" stroke-width="3.9" stroke-linejoin="round" stroke-linecap="round" />
<path d="M147.0,659.5 L209.5,657.0 L272.0,654.5 L303.0,647.2 L318.9,641.0 L334.5,634.7 L347.0,633.0 L368.9,620.0 L390.8,607.5 L401.7,602.8 L418.9,609.8 L437.6,598.0 L451.7,591.0 L461.0,592.7 L472.0,602.8 L483.0,608.3 L492.3,607.5 L503.0,612.2 L511.0,616.0 L547.0,625.5 L564.5,622.0 L573.3,622.0 L583.8,629.9 L596.1,615.0 L617.1,605.3 L634.6,597.4 L645.2,601.0 L655.7,586.9 L676.7,585.2 L685.5,572.9 L696.0,565.9 L704.8,553.6 L718.8,530.8 L729.3,516.8 L738.0,510.7 L747.0,496.0 L752.5,490.0 L765.0,460.0 L770.3,449.1 L780.3,448.3 L790.3,433.3 L797.0,413.3 L800.3,400.0 L813.6,393.3 L830.3,384.2 L842.0,397.5 L852.0,382.5 L862.0,405.8 L871.9,405.0 L881.9,416.6 L891.9,438.3 L901.9,465.0 L918.5,484.9 L925.2,493.2 L935.2,518.2 L943.5,521.5 L946.3,523.7 L955.8,547.3 L965.2,561.5 L976.3,567.8 L985.7,594.6 L996.8,604.1 L1006.2,618.3 L1017.3,629.3 L1026.8,625.4 L1042.5,638.8 L1058.3,648.3 L1074.0,656.1 L1090.0,661.0 L1110.0,664.0 L1130.0,664.5 L1150.0,663.0 L1200.0,664.0 L1264.0,665.0" fill="none" stroke="#000" stroke-width="4.0" stroke-linejoin="round" stroke-linecap="round" />
<path d="M148.0,661.7 L151.0,661.7 L154.0,661.6 L157.0,661.6 L160.0,661.6 L163.0,661.6 L166.0,661.6 L169.0,661.6 L172.0,661.5 L175.0,661.5 L178.0,661.5 L181.0,661.5 L184.0,661.4 L187.0,661.4 L190.0,661.4 L193.0,661.4 L196.0,661.3 L199.0,661.3 L202.0,661.3 L205.0,661.3 L208.0,661.2 L211.0,661.2 L214.0,661.2 L217.0,661.1 L220.0,661.1 L223.0,661.0 L226.0,661.0 L229.0,661.0 L232.0,660.9 L235.0,660.9 L238.0,660.8 L241.0,660.8 L244.0,660.8 L247.0,660.7 L250.0,660.7 L253.0,660.6 L256.0,660.5 L259.0,660.5 L262.0,660.4 L265.0,660.4 L268.0,660.3 L271.0,660.2 L274.0,660.1 L277.0,660.1 L280.0,660.0 L283.0,659.9 L286.0,659.8 L289.0,659.7 L292.0,659.6 L295.0,659.5 L298.0,659.4 L301.0,659.3 L304.0,659.2 L307.0,659.0 L310.0,658.9 L313.0,658.8 L316.0,658.6 L319.0,658.4 L322.0,658.3 L325.0,658.1 L328.0,657.9 L331.0,657.7 L334.0,657.4 L337.0,657.2 L340.0,656.9 L343.0,656.6 L346.0,656.3 L349.0,655.9 L352.0,655.6 L355.0,655.2 L358.0,654.7 L361.0,654.2 L364.0,653.7 L367.0,653.2 L370.0,652.6 L373.0,651.9 L376.0,651.2 L379.0,650.5 L382.0,649.7 L385.0,648.8 L388.0,647.9 L391.0,646.9 L394.0,645.8 L397.0,644.7 L400.0,643.5 L403.0,642.2 L406.0,640.9 L409.0,639.5 L412.0,638.1 L415.0,636.6 L418.0,635.1 L421.0,633.5 L424.0,632.0 L427.0,630.4 L430.0,629.0 L433.0,627.5 L436.0,626.2 L439.0,625.1 L442.0,624.1 L445.0,623.3 L448.0,622.7 L451.0,622.4 L454.0,622.3 L457.0,622.6 L460.0,623.0 L463.0,623.8 L466.0,624.7 L469.0,625.8 L472.0,627.1 L475.0,628.5 L478.0,630.0 L481.0,631.6 L484.0,633.2 L487.0,634.7 L490.0,636.3 L493.0,637.8 L496.0,639.3 L499.0,640.8 L502.0,642.2 L505.0,643.5 L508.0,644.8 L511.0,645.9 L514.0,647.1 L517.0,648.1 L520.0,649.1 L523.0,650.0 L526.0,650.9 L529.0,651.7 L532.0,652.4 L535.0,653.1 L538.0,653.8 L541.0,654.4 L544.0,654.9 L547.0,655.4 L550.0,655.9 L553.0,656.4 L556.0,656.8 L559.0,657.1 L562.0,657.5 L565.0,657.8 L568.0,658.1 L571.0,658.4 L574.0,658.6 L577.0,658.9 L580.0,659.1 L583.0,659.3 L586.0,659.5 L589.0,659.7 L592.0,659.9 L595.0,660.0 L598.0,660.2 L601.0,660.4 L604.0,660.5 L607.0,660.6 L610.0,660.8 L613.0,660.9 L616.0,661.0 L619.0,661.1 L622.0,661.2 L625.0,661.3 L628.0,661.4 L631.0,661.5 L634.0,661.6 L637.0,661.7 L640.0,661.8 L643.0,661.9 L646.0,662.0 L649.0,662.0 L652.0,662.1 L655.0,662.2 L658.0,662.3 L661.0,662.3 L664.0,662.4 L667.0,662.5 L670.0,662.6 L673.0,662.6 L676.0,662.7 L679.0,662.8 L682.0,662.8 L685.0,662.9 L688.0,663.0 L691.0,663.0 L694.0,663.1 L697.0,663.1 L700.0,663.2 L703.0,663.3 L706.0,663.3 L709.0,663.4 L712.0,663.4 L715.0,663.5 L718.0,663.5 L721.0,663.6 L724.0,663.6 L727.0,663.7 L730.0,663.8 L733.0,663.8 L736.0,663.9 L739.0,663.9 L742.0,664.0 L745.0,664.1 L748.0,664.1 L751.0,664.2 L754.0,664.3 L757.0,664.3 L760.0,664.4 L763.0,664.5 L766.0,664.6 L769.0,664.6 L772.0,664.7 L775.0,664.8 L778.0,664.9 L781.0,665.0 L784.0,665.0 L787.0,665.1 L790.0,665.2 L793.0,665.3 L796.0,665.4 L799.0,665.5 L802.0,665.6 L805.0,665.7 L808.0,665.8 L811.0,665.8 L814.0,665.9 L817.0,666.0 L820.0,666.1 L823.0,666.2 L826.0,666.3 L829.0,666.4 L832.0,666.4 L835.0,666.5 L838.0,666.6 L841.0,666.7 L844.0,666.8 L847.0,666.8 L850.0,666.9 L853.0,667.0 L856.0,667.1 L859.0,667.2 L862.0,667.2 L865.0,667.3 L868.0,667.4 L871.0,667.5 L874.0,667.6 L877.0,667.6 L880.0,667.7 L883.0,667.8 L886.0,667.9 L889.0,668.0 L892.0,668.0 L895.0,668.1 L898.0,668.2 L901.0,668.3 L904.0,668.3 L907.0,668.4 L910.0,668.5 L913.0,668.5 L916.0,668.6 L919.0,668.7 L922.0,668.7 L925.0,668.8 L928.0,668.8 L931.0,668.9 L934.0,668.9 L937.0,669.0 L940.0,669.0 L943.0,669.0 L946.0,669.1 L949.0,669.1 L952.0,669.2 L955.0,669.2 L958.0,669.2 L961.0,669.3 L964.0,669.3 L967.0,669.3 L970.0,669.3 L973.0,669.4 L976.0,669.4 L979.0,669.4 L982.0,669.4 L985.0,669.5 L988.0,669.5 L991.0,669.5 L994.0,669.5 L997.0,669.5 L1000.0,669.6 L1003.0,669.6 L1006.0,669.6 L1009.0,669.6 L1012.0,669.6 L1015.0,669.6 L1018.0,669.6 L1021.0,669.7 L1024.0,669.7 L1027.0,669.7 L1030.0,669.7 L1033.0,669.7 L1036.0,669.7 L1039.0,669.7 L1042.0,669.7 L1045.0,669.7 L1048.0,669.8 L1051.0,669.8 L1054.0,669.8 L1057.0,669.8 L1060.0,669.8 L1063.0,669.8 L1066.0,669.8 L1069.0,669.8 L1072.0,669.8 L1075.0,669.8 L1078.0,669.8 L1081.0,669.8 L1084.0,669.8 L1087.0,669.8 L1090.0,669.8 L1093.0,669.8 L1096.0,669.9 L1099.0,669.9 L1102.0,669.9 L1105.0,669.9 L1108.0,669.9 L1111.0,669.9 L1114.0,669.9 L1117.0,669.9 L1120.0,669.9 L1123.0,669.9 L1126.0,669.9 L1129.0,669.9 L1132.0,669.9 L1135.0,669.9 L1138.0,669.9 L1141.0,669.9 L1144.0,669.9 L1147.0,669.9 L1150.0,669.9 L1153.0,669.9 L1156.0,669.9 L1159.0,669.9 L1162.0,669.9 L1165.0,669.9 L1168.0,669.9 L1171.0,669.9 L1174.0,669.9 L1177.0,669.9 L1180.0,670.0 L1183.0,670.0 L1186.0,670.0 L1189.0,670.0 L1192.0,670.0 L1195.0,670.0 L1198.0,670.0 L1201.0,670.0 L1204.0,670.0 L1207.0,670.0 L1210.0,670.0 L1213.0,670.0 L1216.0,670.0 L1219.0,670.0 L1222.0,670.0 L1225.0,670.0 L1228.0,670.0 L1231.0,670.0 L1234.0,670.0 L1237.0,670.0 L1240.0,670.0 L1243.0,670.0 L1246.0,670.0 L1249.0,670.0 L1252.0,670.0 L1255.0,670.0 L1258.0,670.0 L1261.0,670.0 L1264.0,670.0 L1265.0,670.0" fill="none" stroke="#f00ae6" stroke-width="3.7" stroke-linejoin="round" stroke-linecap="round" />
<path d="M148.0,661.6 L151.0,661.6 L154.0,661.5 L157.0,661.5 L160.0,661.5 L163.0,661.4 L166.0,661.4 L169.0,661.3 L172.0,661.3 L175.0,661.2 L178.0,661.2 L181.0,661.2 L184.0,661.1 L187.0,661.0 L190.0,661.0 L193.0,660.9 L196.0,660.9 L199.0,660.8 L202.0,660.8 L205.0,660.7 L208.0,660.6 L211.0,660.5 L214.0,660.5 L217.0,660.4 L220.0,660.3 L223.0,660.2 L226.0,660.1 L229.0,660.0 L232.0,659.9 L235.0,659.8 L238.0,659.7 L241.0,659.5 L244.0,659.4 L247.0,659.3 L250.0,659.1 L253.0,658.9 L256.0,658.8 L259.0,658.6 L262.0,658.4 L265.0,658.1 L268.0,657.9 L271.0,657.6 L274.0,657.3 L277.0,657.0 L280.0,656.7 L283.0,656.3 L286.0,655.9 L289.0,655.4 L292.0,655.0 L295.0,654.4 L298.0,653.9 L301.0,653.3 L304.0,652.6 L307.0,651.9 L310.0,651.1 L313.0,650.3 L316.0,649.4 L319.0,648.5 L322.0,647.5 L325.0,646.4 L328.0,645.3 L331.0,644.1 L334.0,642.8 L337.0,641.5 L340.0,640.1 L343.0,638.7 L346.0,637.2 L349.0,635.7 L352.0,634.2 L355.0,632.6 L358.0,631.0 L361.0,629.5 L364.0,627.9 L367.0,626.5 L370.0,625.1 L373.0,623.8 L376.0,622.7 L379.0,621.7 L382.0,620.9 L385.0,620.4 L388.0,620.0 L391.0,619.9 L394.0,620.1 L397.0,620.5 L400.0,621.1 L403.0,621.9 L406.0,623.0 L409.0,624.1 L412.0,625.5 L415.0,626.9 L418.0,628.4 L421.0,630.0 L424.0,631.5 L427.0,633.1 L430.0,634.7 L433.0,636.3 L436.0,637.8 L439.0,639.3 L442.0,640.8 L445.0,642.2 L448.0,643.5 L451.0,644.8 L454.0,646.0 L457.0,647.2 L460.0,648.2 L463.0,649.3 L466.0,650.2 L469.0,651.1 L472.0,651.9 L475.0,652.7 L478.0,653.5 L481.0,654.1 L484.0,654.8 L487.0,655.3 L490.0,655.9 L493.0,656.4 L496.0,656.8 L499.0,657.2 L502.0,657.6 L505.0,658.0 L508.0,658.3 L511.0,658.6 L514.0,658.9 L517.0,659.2 L520.0,659.4 L523.0,659.6 L526.0,659.8 L529.0,660.0 L532.0,660.2 L535.0,660.4 L538.0,660.5 L541.0,660.7 L544.0,660.8 L547.0,661.0 L550.0,661.1 L553.0,661.2 L556.0,661.3 L559.0,661.4 L562.0,661.5 L565.0,661.6 L568.0,661.7 L571.0,661.8 L574.0,661.9 L577.0,661.9 L580.0,662.0 L583.0,662.1 L586.0,662.2 L589.0,662.2 L592.0,662.3 L595.0,662.4 L598.0,662.4 L601.0,662.5 L604.0,662.6 L607.0,662.6 L610.0,662.7 L613.0,662.7 L616.0,662.8 L619.0,662.9 L622.0,662.9 L625.0,663.0 L628.0,663.0 L631.0,663.1 L634.0,663.1 L637.0,663.2 L640.0,663.2 L643.0,663.3 L646.0,663.3 L649.0,663.4 L652.0,663.4 L655.0,663.5 L658.0,663.5 L661.0,663.6 L664.0,663.6 L667.0,663.7 L670.0,663.7 L673.0,663.7 L676.0,663.8 L679.0,663.8 L682.0,663.9 L685.0,663.9 L688.0,664.0 L691.0,664.0 L694.0,664.1 L697.0,664.1 L700.0,664.2 L703.0,664.2 L706.0,664.2 L709.0,664.3 L712.0,664.3 L715.0,664.4 L718.0,664.4 L721.0,664.5 L724.0,664.5 L727.0,664.6 L730.0,664.6 L733.0,664.7 L736.0,664.7 L739.0,664.8 L742.0,664.8 L745.0,664.9 L748.0,664.9 L751.0,665.0 L754.0,665.1 L757.0,665.1 L760.0,665.2 L763.0,665.3 L766.0,665.3 L769.0,665.4 L772.0,665.5 L775.0,665.6 L778.0,665.6 L781.0,665.7 L784.0,665.8 L787.0,665.9 L790.0,666.0 L793.0,666.1 L796.0,666.2 L799.0,666.2 L802.0,666.3 L805.0,666.4 L808.0,666.5 L811.0,666.6 L814.0,666.7 L817.0,666.8 L820.0,666.9 L823.0,666.9 L826.0,667.0 L829.0,667.1 L832.0,667.2 L835.0,667.3 L838.0,667.4 L841.0,667.4 L844.0,667.5 L847.0,667.6 L850.0,667.7 L853.0,667.7 L856.0,667.8 L859.0,667.9 L862.0,668.0 L865.0,668.1 L868.0,668.1 L871.0,668.2 L874.0,668.3 L877.0,668.4 L880.0,668.5 L883.0,668.6 L886.0,668.6 L889.0,668.7 L892.0,668.8 L895.0,668.9 L898.0,668.9 L901.0,669.0 L904.0,669.1 L907.0,669.2 L910.0,669.2 L913.0,669.3 L916.0,669.4 L919.0,669.4 L922.0,669.5 L925.0,669.5 L928.0,669.6 L931.0,669.6 L934.0,669.7 L937.0,669.7 L940.0,669.8 L943.0,669.8 L946.0,669.9 L949.0,669.9 L952.0,669.9 L955.0,670.0 L958.0,670.0 L961.0,670.0 L964.0,670.1 L967.0,670.1 L970.0,670.1 L973.0,670.1 L976.0,670.2 L979.0,670.2 L982.0,670.2 L985.0,670.2 L988.0,670.3 L991.0,670.3 L994.0,670.3 L997.0,670.3 L1000.0,670.3 L1003.0,670.4 L1006.0,670.4 L1009.0,670.4 L1012.0,670.4 L1015.0,670.4 L1018.0,670.4 L1021.0,670.4 L1024.0,670.4 L1027.0,670.5 L1030.0,670.5 L1033.0,670.5 L1036.0,670.5 L1039.0,670.5 L1042.0,670.5 L1045.0,670.5 L1048.0,670.5 L1051.0,670.5 L1054.0,670.5 L1057.0,670.5 L1060.0,670.5 L1063.0,670.6 L1066.0,670.6 L1069.0,670.6 L1072.0,670.6 L1075.0,670.6 L1078.0,670.6 L1081.0,670.6 L1084.0,670.6 L1087.0,670.6 L1090.0,670.6 L1093.0,670.6 L1096.0,670.6 L1099.0,670.6 L1102.0,670.6 L1105.0,670.6 L1108.0,670.6 L1111.0,670.6 L1114.0,670.6 L1117.0,670.6 L1120.0,670.7 L1123.0,670.7 L1126.0,670.7 L1129.0,670.7 L1132.0,670.7 L1135.0,670.7 L1138.0,670.7 L1141.0,670.7 L1144.0,670.7 L1147.0,670.7 L1150.0,670.7 L1153.0,670.7 L1156.0,670.7 L1159.0,670.7 L1162.0,670.7 L1165.0,670.7 L1168.0,670.7 L1171.0,670.7 L1174.0,670.7 L1177.0,670.7 L1180.0,670.7 L1183.0,670.7 L1186.0,670.7 L1189.0,670.7 L1192.0,670.7 L1195.0,670.7 L1198.0,670.7 L1201.0,670.7 L1204.0,670.7 L1207.0,670.7 L1210.0,670.7 L1213.0,670.7 L1216.0,670.7 L1219.0,670.7 L1222.0,670.7 L1225.0,670.7 L1228.0,670.7 L1231.0,670.7 L1234.0,670.7 L1237.0,670.7 L1240.0,670.7 L1243.0,670.7 L1246.0,670.7 L1249.0,670.7 L1252.0,670.7 L1255.0,670.7 L1258.0,670.7 L1261.0,670.7 L1264.0,670.8 L1265.0,670.8" fill="none" stroke="#820a0a" stroke-width="3.7" stroke-linejoin="round" stroke-linecap="round" />
<path d="M148.0,662.8 L151.0,662.8 L154.0,662.8 L157.0,662.8 L160.0,662.8 L163.0,662.8 L166.0,662.7 L169.0,662.7 L172.0,662.7 L175.0,662.7 L178.0,662.7 L181.0,662.7 L184.0,662.7 L187.0,662.7 L190.0,662.7 L193.0,662.7 L196.0,662.7 L199.0,662.7 L202.0,662.6 L205.0,662.6 L208.0,662.6 L211.0,662.6 L214.0,662.6 L217.0,662.6 L220.0,662.6 L223.0,662.6 L226.0,662.6 L229.0,662.6 L232.0,662.6 L235.0,662.5 L238.0,662.5 L241.0,662.5 L244.0,662.5 L247.0,662.5 L250.0,662.5 L253.0,662.5 L256.0,662.5 L259.0,662.5 L262.0,662.5 L265.0,662.4 L268.0,662.4 L271.0,662.4 L274.0,662.4 L277.0,662.4 L280.0,662.4 L283.0,662.4 L286.0,662.4 L289.0,662.3 L292.0,662.3 L295.0,662.3 L298.0,662.3 L301.0,662.3 L304.0,662.3 L307.0,662.3 L310.0,662.3 L313.0,662.3 L316.0,662.2 L319.0,662.2 L322.0,662.2 L325.0,662.2 L328.0,662.2 L331.0,662.2 L334.0,662.2 L337.0,662.2 L340.0,662.1 L343.0,662.1 L346.0,662.1 L349.0,662.1 L352.0,662.1 L355.0,662.1 L358.0,662.1 L361.0,662.1 L364.0,662.1 L367.0,662.0 L370.0,662.0 L373.0,662.0 L376.0,662.0 L379.0,662.0 L382.0,662.0 L385.0,662.0 L388.0,662.0 L391.0,662.0 L394.0,662.0 L397.0,662.0 L400.0,661.9 L403.0,661.9 L406.0,661.9 L409.0,661.9 L412.0,661.9 L415.0,661.9 L418.0,661.9 L421.0,661.9 L424.0,661.9 L427.0,661.9 L430.0,661.9 L433.0,661.8 L436.0,661.8 L439.0,661.8 L442.0,661.8 L445.0,661.8 L448.0,661.8 L451.0,661.8 L454.0,661.7 L457.0,661.7 L460.0,661.7 L463.0,661.7 L466.0,661.7 L469.0,661.7 L472.0,661.6 L475.0,661.6 L478.0,661.6 L481.0,661.6 L484.0,661.5 L487.0,661.5 L490.0,661.5 L493.0,661.5 L496.0,661.4 L499.0,661.4 L502.0,661.4 L505.0,661.3 L508.0,661.3 L511.0,661.3 L514.0,661.2 L517.0,661.2 L520.0,661.1 L523.0,661.1 L526.0,661.0 L529.0,661.0 L532.0,660.9 L535.0,660.9 L538.0,660.8 L541.0,660.8 L544.0,660.7 L547.0,660.6 L550.0,660.6 L553.0,660.5 L556.0,660.4 L559.0,660.4 L562.0,660.3 L565.0,660.2 L568.0,660.2 L571.0,660.1 L574.0,660.0 L577.0,659.9 L580.0,659.8 L583.0,659.7 L586.0,659.6 L589.0,659.6 L592.0,659.5 L595.0,659.4 L598.0,659.3 L601.0,659.2 L604.0,659.0 L607.0,658.9 L610.0,658.8 L613.0,658.7 L616.0,658.6 L619.0,658.5 L622.0,658.3 L625.0,658.2 L628.0,658.1 L631.0,657.9 L634.0,657.8 L637.0,657.6 L640.0,657.5 L643.0,657.3 L646.0,657.1 L649.0,657.0 L652.0,656.8 L655.0,656.6 L658.0,656.4 L661.0,656.2 L664.0,656.0 L667.0,655.8 L670.0,655.5 L673.0,655.3 L676.0,655.1 L679.0,654.8 L682.0,654.5 L685.0,654.3 L688.0,654.0 L691.0,653.7 L694.0,653.3 L697.0,653.0 L700.0,652.7 L703.0,652.3 L706.0,651.9 L709.0,651.5 L712.0,651.1 L715.0,650.7 L718.0,650.2 L721.0,649.7 L724.0,649.2 L727.0,648.7 L730.0,648.1 L733.0,647.5 L736.0,646.9 L739.0,646.3 L742.0,645.6 L745.0,644.8 L748.0,644.0 L751.0,643.2 L754.0,642.3 L757.0,641.4 L760.0,640.4 L763.0,639.3 L766.0,638.2 L769.0,636.9 L772.0,635.6 L775.0,634.2 L778.0,632.7 L781.0,631.1 L784.0,629.4 L787.0,627.6 L790.0,625.6 L793.0,623.5 L796.0,621.2 L799.0,618.8 L802.0,616.1 L805.0,613.3 L808.0,610.4 L811.0,607.1 L814.0,603.7 L817.0,600.1 L820.0,596.2 L823.0,592.1 L826.0,587.7 L829.0,583.0 L832.0,578.1 L835.0,573.0 L838.0,567.5 L841.0,561.9 L844.0,556.0 L847.0,549.9 L850.0,543.6 L853.0,537.1 L856.0,530.6 L859.0,524.1 L862.0,517.6 L865.0,511.2 L868.0,505.2 L871.0,499.4 L874.0,494.2 L877.0,489.6 L880.0,485.7 L883.0,482.6 L886.0,480.5 L889.0,479.4 L892.0,479.3 L895.0,480.3 L898.0,482.3 L901.0,485.2 L904.0,489.0 L907.0,493.6 L910.0,498.8 L913.0,504.6 L916.0,510.7 L919.0,517.1 L922.0,523.7 L925.0,530.4 L928.0,537.1 L931.0,543.6 L934.0,550.1 L937.0,556.4 L940.0,562.5 L943.0,568.3 L946.0,574.0 L949.0,579.3 L952.0,584.4 L955.0,589.2 L958.0,593.8 L961.0,598.1 L964.0,602.2 L967.0,606.0 L970.0,609.6 L973.0,613.0 L976.0,616.2 L979.0,619.1 L982.0,621.9 L985.0,624.5 L988.0,626.9 L991.0,629.2 L994.0,631.3 L997.0,633.3 L1000.0,635.1 L1003.0,636.9 L1006.0,638.5 L1009.0,640.0 L1012.0,641.4 L1015.0,642.7 L1018.0,644.0 L1021.0,645.1 L1024.0,646.2 L1027.0,647.3 L1030.0,648.2 L1033.0,649.1 L1036.0,650.0 L1039.0,650.8 L1042.0,651.6 L1045.0,652.3 L1048.0,653.0 L1051.0,653.6 L1054.0,654.2 L1057.0,654.8 L1060.0,655.4 L1063.0,655.9 L1066.0,656.4 L1069.0,656.9 L1072.0,657.3 L1075.0,657.8 L1078.0,658.2 L1081.0,658.6 L1084.0,659.0 L1087.0,659.4 L1090.0,659.7 L1093.0,660.1 L1096.0,660.4 L1099.0,660.7 L1102.0,661.0 L1105.0,661.3 L1108.0,661.6 L1111.0,661.8 L1114.0,662.1 L1117.0,662.3 L1120.0,662.6 L1123.0,662.8 L1126.0,663.0 L1129.0,663.2 L1132.0,663.4 L1135.0,663.6 L1138.0,663.8 L1141.0,664.0 L1144.0,664.2 L1147.0,664.4 L1150.0,664.6 L1153.0,664.7 L1156.0,664.9 L1159.0,665.0 L1162.0,665.2 L1165.0,665.3 L1168.0,665.5 L1171.0,665.6 L1174.0,665.7 L1177.0,665.9 L1180.0,666.0 L1183.0,666.1 L1186.0,666.2 L1189.0,666.3 L1192.0,666.4 L1195.0,666.5 L1198.0,666.7 L1201.0,666.8 L1204.0,666.9 L1207.0,666.9 L1210.0,667.0 L1213.0,667.1 L1216.0,667.2 L1219.0,667.3 L1222.0,667.4 L1225.0,667.5 L1228.0,667.5 L1231.0,667.6 L1234.0,667.7 L1237.0,667.8 L1240.0,667.8 L1243.0,667.9 L1246.0,668.0 L1249.0,668.1 L1252.0,668.1 L1255.0,668.2 L1258.0,668.2 L1261.0,668.3 L1264.0,668.4 L1265.0,668.4" fill="none" stroke="#0c00ee" stroke-width="3.7" stroke-linejoin="round" stroke-linecap="round" />
<path d="M148.0,661.5 L151.0,661.5 L154.0,661.5 L157.0,661.5 L160.0,661.5 L163.0,661.5 L166.0,661.5 L169.0,661.4 L172.0,661.4 L175.0,661.4 L178.0,661.4 L181.0,661.4 L184.0,661.4 L187.0,661.4 L190.0,661.3 L193.0,661.3 L196.0,661.3 L199.0,661.3 L202.0,661.3 L205.0,661.3 L208.0,661.3 L211.0,661.2 L214.0,661.2 L217.0,661.2 L220.0,661.2 L223.0,661.2 L226.0,661.2 L229.0,661.1 L232.0,661.1 L235.0,661.1 L238.0,661.1 L241.0,661.1 L244.0,661.1 L247.0,661.0 L250.0,661.0 L253.0,661.0 L256.0,661.0 L259.0,661.0 L262.0,660.9 L265.0,660.9 L268.0,660.9 L271.0,660.9 L274.0,660.9 L277.0,660.8 L280.0,660.8 L283.0,660.8 L286.0,660.8 L289.0,660.8 L292.0,660.7 L295.0,660.7 L298.0,660.7 L301.0,660.7 L304.0,660.6 L307.0,660.6 L310.0,660.6 L313.0,660.6 L316.0,660.5 L319.0,660.5 L322.0,660.5 L325.0,660.5 L328.0,660.4 L331.0,660.4 L334.0,660.4 L337.0,660.4 L340.0,660.3 L343.0,660.3 L346.0,660.3 L349.0,660.3 L352.0,660.2 L355.0,660.2 L358.0,660.2 L361.0,660.2 L364.0,660.1 L367.0,660.1 L370.0,660.1 L373.0,660.0 L376.0,660.0 L379.0,660.0 L382.0,660.0 L385.0,659.9 L388.0,659.9 L391.0,659.9 L394.0,659.8 L397.0,659.8 L400.0,659.8 L403.0,659.7 L406.0,659.7 L409.0,659.7 L412.0,659.6 L415.0,659.6 L418.0,659.6 L421.0,659.5 L424.0,659.5 L427.0,659.5 L430.0,659.4 L433.0,659.4 L436.0,659.3 L439.0,659.3 L442.0,659.2 L445.0,659.2 L448.0,659.1 L451.0,659.1 L454.0,659.0 L457.0,659.0 L460.0,658.9 L463.0,658.9 L466.0,658.8 L469.0,658.7 L472.0,658.7 L475.0,658.6 L478.0,658.5 L481.0,658.5 L484.0,658.4 L487.0,658.3 L490.0,658.2 L493.0,658.1 L496.0,658.1 L499.0,658.0 L502.0,657.9 L505.0,657.8 L508.0,657.7 L511.0,657.6 L514.0,657.5 L517.0,657.4 L520.0,657.3 L523.0,657.1 L526.0,657.0 L529.0,656.9 L532.0,656.8 L535.0,656.6 L538.0,656.5 L541.0,656.3 L544.0,656.2 L547.0,656.0 L550.0,655.9 L553.0,655.7 L556.0,655.5 L559.0,655.3 L562.0,655.1 L565.0,655.0 L568.0,654.8 L571.0,654.5 L574.0,654.3 L577.0,654.1 L580.0,653.9 L583.0,653.6 L586.0,653.4 L589.0,653.1 L592.0,652.9 L595.0,652.6 L598.0,652.3 L601.0,652.0 L604.0,651.7 L607.0,651.4 L610.0,651.0 L613.0,650.7 L616.0,650.3 L619.0,649.9 L622.0,649.5 L625.0,649.1 L628.0,648.7 L631.0,648.2 L634.0,647.7 L637.0,647.2 L640.0,646.7 L643.0,646.2 L646.0,645.6 L649.0,644.9 L652.0,644.3 L655.0,643.6 L658.0,642.9 L661.0,642.1 L664.0,641.2 L667.0,640.4 L670.0,639.4 L673.0,638.4 L676.0,637.3 L679.0,636.2 L682.0,634.9 L685.0,633.6 L688.0,632.2 L691.0,630.7 L694.0,629.1 L697.0,627.3 L700.0,625.5 L703.0,623.5 L706.0,621.3 L709.0,619.0 L712.0,616.5 L715.0,613.9 L718.0,611.1 L721.0,608.1 L724.0,604.8 L727.0,601.4 L730.0,597.8 L733.0,593.9 L736.0,589.8 L739.0,585.4 L742.0,580.8 L745.0,576.0 L748.0,570.9 L751.0,565.5 L754.0,559.9 L757.0,554.0 L760.0,548.0 L763.0,541.6 L766.0,535.1 L769.0,528.4 L772.0,521.6 L775.0,514.6 L778.0,507.6 L781.0,500.6 L784.0,493.6 L787.0,486.8 L790.0,480.2 L793.0,473.9 L796.0,468.1 L799.0,462.8 L802.0,458.1 L805.0,454.2 L808.0,451.1 L811.0,448.9 L814.0,447.6 L817.0,447.4 L820.0,448.2 L823.0,449.9 L826.0,452.6 L829.0,456.2 L832.0,460.6 L835.0,465.6 L838.0,471.3 L841.0,477.5 L844.0,484.0 L847.0,490.9 L850.0,497.9 L853.0,505.0 L856.0,512.2 L859.0,519.3 L862.0,526.4 L865.0,533.3 L868.0,540.1 L871.0,546.7 L874.0,553.1 L877.0,559.2 L880.0,565.1 L883.0,570.7 L886.0,576.1 L889.0,581.3 L892.0,586.2 L895.0,590.8 L898.0,595.2 L901.0,599.3 L904.0,603.2 L907.0,606.9 L910.0,610.3 L913.0,613.5 L916.0,616.6 L919.0,619.4 L922.0,622.1 L925.0,624.6 L928.0,626.9 L931.0,629.1 L934.0,631.1 L937.0,633.0 L940.0,634.8 L943.0,636.4 L946.0,638.0 L949.0,639.4 L952.0,640.7 L955.0,642.0 L958.0,643.2 L961.0,644.3 L964.0,645.3 L967.0,646.3 L970.0,647.2 L973.0,648.1 L976.0,648.9 L979.0,649.7 L982.0,650.4 L985.0,651.1 L988.0,651.7 L991.0,652.3 L994.0,652.9 L997.0,653.5 L1000.0,654.0 L1003.0,654.5 L1006.0,655.0 L1009.0,655.4 L1012.0,655.9 L1015.0,656.3 L1018.0,656.7 L1021.0,657.1 L1024.0,657.4 L1027.0,657.8 L1030.0,658.1 L1033.0,658.5 L1036.0,658.8 L1039.0,659.1 L1042.0,659.4 L1045.0,659.7 L1048.0,659.9 L1051.0,660.2 L1054.0,660.4 L1057.0,660.7 L1060.0,660.9 L1063.0,661.2 L1066.0,661.4 L1069.0,661.6 L1072.0,661.8 L1075.0,662.0 L1078.0,662.2 L1081.0,662.4 L1084.0,662.5 L1087.0,662.7 L1090.0,662.9 L1093.0,663.1 L1096.0,663.2 L1099.0,663.4 L1102.0,663.5 L1105.0,663.7 L1108.0,663.8 L1111.0,663.9 L1114.0,664.1 L1117.0,664.2 L1120.0,664.3 L1123.0,664.5 L1126.0,664.6 L1129.0,664.7 L1132.0,664.8 L1135.0,664.9 L1138.0,665.0 L1141.0,665.1 L1144.0,665.2 L1147.0,665.3 L1150.0,665.4 L1153.0,665.5 L1156.0,665.6 L1159.0,665.7 L1162.0,665.8 L1165.0,665.9 L1168.0,665.9 L1171.0,666.0 L1174.0,666.1 L1177.0,666.2 L1180.0,666.2 L1183.0,666.3 L1186.0,666.4 L1189.0,666.5 L1192.0,666.5 L1195.0,666.6 L1198.0,666.7 L1201.0,666.7 L1204.0,666.8 L1207.0,666.8 L1210.0,666.9 L1213.0,667.0 L1216.0,667.0 L1219.0,667.1 L1222.0,667.1 L1225.0,667.2 L1228.0,667.2 L1231.0,667.3 L1234.0,667.3 L1237.0,667.4 L1240.0,667.4 L1243.0,667.5 L1246.0,667.5 L1249.0,667.6 L1252.0,667.6 L1255.0,667.6 L1258.0,667.7 L1261.0,667.7 L1264.0,667.8 L1267.0,667.8 L1270.0,667.8 L1273.0,667.9 L1276.0,667.9 L1278.0,667.9" fill="none" stroke="#18f018" stroke-width="3.7" stroke-linejoin="round" stroke-linecap="round" />
<path d="M148.0,664.9 L151.0,664.9 L154.0,664.9 L157.0,664.9 L160.0,664.9 L163.0,664.9 L166.0,664.9 L169.0,664.9 L172.0,664.9 L175.0,664.9 L178.0,664.9 L181.0,664.9 L184.0,664.9 L187.0,664.9 L190.0,664.9 L193.0,664.9 L196.0,664.9 L199.0,664.9 L202.0,664.9 L205.0,664.9 L208.0,664.9 L211.0,664.9 L214.0,664.9 L217.0,664.9 L220.0,664.9 L223.0,664.9 L226.0,664.9 L229.0,664.8 L232.0,664.8 L235.0,664.8 L238.0,664.8 L241.0,664.8 L244.0,664.8 L247.0,664.8 L250.0,664.8 L253.0,664.8 L256.0,664.8 L259.0,664.8 L262.0,664.8 L265.0,664.8 L268.0,664.8 L271.0,664.8 L274.0,664.8 L277.0,664.8 L280.0,664.8 L283.0,664.8 L286.0,664.8 L289.0,664.8 L292.0,664.7 L295.0,664.7 L298.0,664.7 L301.0,664.7 L304.0,664.7 L307.0,664.7 L310.0,664.7 L313.0,664.7 L316.0,664.7 L319.0,664.7 L322.0,664.7 L325.0,664.7 L328.0,664.7 L331.0,664.7 L334.0,664.7 L337.0,664.7 L340.0,664.6 L343.0,664.6 L346.0,664.6 L349.0,664.6 L352.0,664.6 L355.0,664.6 L358.0,664.6 L361.0,664.6 L364.0,664.6 L367.0,664.6 L370.0,664.6 L373.0,664.6 L376.0,664.6 L379.0,664.5 L382.0,664.5 L385.0,664.5 L388.0,664.5 L391.0,664.5 L394.0,664.5 L397.0,664.5 L400.0,664.5 L403.0,664.5 L406.0,664.5 L409.0,664.5 L412.0,664.4 L415.0,664.4 L418.0,664.4 L421.0,664.4 L424.0,664.4 L427.0,664.4 L430.0,664.4 L433.0,664.4 L436.0,664.3 L439.0,664.3 L442.0,664.3 L445.0,664.3 L448.0,664.3 L451.0,664.2 L454.0,664.2 L457.0,664.2 L460.0,664.2 L463.0,664.2 L466.0,664.1 L469.0,664.1 L472.0,664.1 L475.0,664.1 L478.0,664.0 L481.0,664.0 L484.0,664.0 L487.0,663.9 L490.0,663.9 L493.0,663.9 L496.0,663.8 L499.0,663.8 L502.0,663.8 L505.0,663.7 L508.0,663.7 L511.0,663.6 L514.0,663.6 L517.0,663.5 L520.0,663.5 L523.0,663.4 L526.0,663.4 L529.0,663.3 L532.0,663.2 L535.0,663.2 L538.0,663.1 L541.0,663.0 L544.0,662.9 L547.0,662.9 L550.0,662.8 L553.0,662.7 L556.0,662.6 L559.0,662.5 L562.0,662.3 L565.0,662.2 L568.0,662.1 L571.0,661.9 L574.0,661.8 L577.0,661.6 L580.0,661.5 L583.0,661.3 L586.0,661.0 L589.0,660.8 L592.0,660.6 L595.0,660.3 L598.0,660.0 L601.0,659.7 L604.0,659.4 L607.0,659.0 L610.0,658.6 L613.0,658.1 L616.0,657.7 L619.0,657.1 L622.0,656.6 L625.0,656.0 L628.0,655.3 L631.0,654.6 L634.0,653.9 L637.0,653.1 L640.0,652.2 L643.0,651.3 L646.0,650.3 L649.0,649.2 L652.0,648.2 L655.0,647.0 L658.0,645.8 L661.0,644.5 L664.0,643.2 L667.0,641.8 L670.0,640.4 L673.0,639.0 L676.0,637.5 L679.0,636.1 L682.0,634.6 L685.0,633.2 L688.0,631.8 L691.0,630.4 L694.0,629.2 L697.0,628.0 L700.0,627.0 L703.0,626.1 L706.0,625.5 L709.0,625.0 L712.0,624.7 L715.0,624.7 L718.0,624.8 L721.0,625.2 L724.0,625.8 L727.0,626.6 L730.0,627.6 L733.0,628.7 L736.0,629.9 L739.0,631.2 L742.0,632.6 L745.0,634.1 L748.0,635.5 L751.0,637.0 L754.0,638.5 L757.0,640.0 L760.0,641.4 L763.0,642.8 L766.0,644.2 L769.0,645.5 L772.0,646.8 L775.0,648.0 L778.0,649.2 L781.0,650.3 L784.0,651.3 L787.0,652.3 L790.0,653.2 L793.0,654.1 L796.0,654.9 L799.0,655.6 L802.0,656.4 L805.0,657.0 L808.0,657.6 L811.0,658.2 L814.0,658.7 L817.0,659.2 L820.0,659.7 L823.0,660.1 L826.0,660.5 L829.0,660.8 L832.0,661.2 L835.0,661.5 L838.0,661.8 L841.0,662.0 L844.0,662.3 L847.0,662.5 L850.0,662.7 L853.0,662.9 L856.0,663.1 L859.0,663.3 L862.0,663.4 L865.0,663.6 L868.0,663.7 L871.0,663.9 L874.0,664.0 L877.0,664.1 L880.0,664.2 L883.0,664.3 L886.0,664.5 L889.0,664.6 L892.0,664.7 L895.0,664.8 L898.0,664.8 L901.0,664.9 L904.0,665.0 L907.0,665.1 L910.0,665.2 L913.0,665.3 L916.0,665.3 L919.0,665.4 L922.0,665.5 L925.0,665.5 L928.0,665.6 L931.0,665.6 L934.0,665.7 L937.0,665.8 L940.0,665.8 L943.0,665.9 L946.0,665.9 L949.0,665.9 L952.0,666.0 L955.0,666.0 L958.0,666.1 L961.0,666.1 L964.0,666.2 L967.0,666.2 L970.0,666.2 L973.0,666.3 L976.0,666.3 L979.0,666.3 L982.0,666.4 L985.0,666.4 L988.0,666.4 L991.0,666.4 L994.0,666.5 L997.0,666.5 L1000.0,666.5 L1003.0,666.5 L1006.0,666.6 L1009.0,666.6 L1012.0,666.6 L1015.0,666.6 L1018.0,666.6 L1021.0,666.7 L1024.0,666.7 L1027.0,666.7 L1030.0,666.7 L1033.0,666.7 L1036.0,666.8 L1039.0,666.8 L1042.0,666.8 L1045.0,666.8 L1048.0,666.8 L1051.0,666.8 L1054.0,666.8 L1057.0,666.9 L1060.0,666.9 L1063.0,666.9 L1066.0,666.9 L1069.0,666.9 L1072.0,666.9 L1075.0,666.9 L1078.0,666.9 L1081.0,666.9 L1084.0,667.0 L1087.0,667.0 L1090.0,667.0 L1093.0,667.0 L1096.0,667.0 L1099.0,667.0 L1102.0,667.0 L1105.0,667.0 L1108.0,667.0 L1111.0,667.0 L1114.0,667.1 L1117.0,667.1 L1120.0,667.1 L1123.0,667.1 L1126.0,667.1 L1129.0,667.1 L1132.0,667.1 L1135.0,667.1 L1138.0,667.1 L1141.0,667.1 L1144.0,667.1 L1147.0,667.1 L1150.0,667.1 L1153.0,667.1 L1156.0,667.2 L1159.0,667.2 L1162.0,667.2 L1165.0,667.2 L1168.0,667.2 L1171.0,667.2 L1174.0,667.2 L1177.0,667.2 L1180.0,667.2 L1183.0,667.2 L1186.0,667.2 L1189.0,667.2 L1192.0,667.2 L1195.0,667.2 L1198.0,667.2 L1201.0,667.2 L1204.0,667.2 L1207.0,667.2 L1210.0,667.2 L1213.0,667.2 L1216.0,667.3 L1219.0,667.3 L1222.0,667.3 L1225.0,667.3 L1228.0,667.3 L1231.0,667.3 L1234.0,667.3 L1237.0,667.3 L1240.0,667.3 L1243.0,667.3 L1246.0,667.3 L1249.0,667.3 L1252.0,667.3 L1255.0,667.3 L1258.0,667.3 L1261.0,667.3 L1264.0,667.3 L1265.0,667.3" fill="none" stroke="#14f5f0" stroke-width="3.7" stroke-linejoin="round" stroke-linecap="round" />
<path d="M147.0,659.7 L151.8,659.5 L158.2,659.3 L165.9,659.0 L174.3,658.6 L183.3,658.3 L192.4,657.9 L201.3,657.6 L209.5,657.3 L217.6,657.0 L226.0,656.7 L234.7,656.5 L243.2,656.2 L251.4,655.9 L259.1,655.6 L266.1,655.3 L272.0,655.0 L276.8,654.7 L280.6,654.4 L283.6,654.0 L286.1,653.7 L288.3,653.3 L290.5,652.9 L292.7,652.4 L295.4,651.9 L298.3,651.3 L301.2,650.6 L304.0,649.9 L306.9,649.1 L309.7,648.2 L312.7,647.4 L315.7,646.5 L318.9,645.6 L322.2,644.7 L325.7,643.9 L329.3,643.0 L333.0,642.1 L336.6,641.1 L340.2,640.0 L343.7,638.8 L347.0,637.5 L350.2,636.0 L353.3,634.3 L356.3,632.5 L359.2,630.6 L362.1,628.7 L364.9,626.7 L367.7,624.8 L370.4,623.0 L373.1,621.2 L375.8,619.3 L378.5,617.5 L381.1,615.6 L383.6,613.8 L386.1,612.1 L388.5,610.5 L390.8,609.0 L392.9,607.6 L394.7,606.3 L396.5,605.0 L398.2,603.9 L399.9,602.8 L401.8,601.9 L404.0,601.1 L406.4,600.5 L409.2,600.1 L412.2,599.9 L415.4,599.9 L418.7,600.0 L422.2,600.2 L425.8,600.4 L429.4,600.5 L433.0,600.5 L436.7,600.4 L440.7,600.3 L444.8,600.2 L449.0,600.0 L453.1,599.9 L457.0,599.8 L460.7,599.7 L464.0,599.7 L467.0,599.7 L469.7,599.7 L472.3,599.7 L474.7,599.8 L476.9,599.9 L479.0,600.0 L481.0,600.2 L483.0,600.5 L484.8,600.8 L486.5,601.1 L488.0,601.5 L489.4,602.0 L490.8,602.5 L492.2,603.0 L493.7,603.7 L495.4,604.4 L497.2,605.3 L499.1,606.2 L501.0,607.3 L503.0,608.4 L505.0,609.6 L507.0,610.7 L509.0,611.9 L511.0,613.0 L512.9,614.1 L514.8,615.2 L516.7,616.4 L518.6,617.5 L520.5,618.6 L522.4,619.7 L524.5,620.7 L526.7,621.6 L529.0,622.5 L531.3,623.3 L533.7,624.0 L536.2,624.7 L538.7,625.4 L541.4,626.0 L544.1,626.5 L547.0,627.0 L550.0,627.5 L553.2,628.0 L556.4,628.5 L559.8,629.0 L563.2,629.3 L566.6,629.5 L570.0,629.4 L573.3,629.0 L576.6,628.3 L579.9,627.3 L583.2,626.1 L586.4,624.6 L589.7,623.1 L593.0,621.5 L596.3,620.0 L599.6,618.5 L602.9,617.1 L606.2,615.7 L609.5,614.2 L612.8,612.8 L616.0,611.3 L619.3,609.7 L622.6,608.0 L625.9,606.2 L629.2,604.2 L632.5,602.1 L635.8,599.8 L639.0,597.5 L642.3,595.1 L645.6,592.8 L648.9,590.7 L652.2,588.7 L655.5,586.9 L659.0,585.1 L662.4,583.4 L665.9,581.8 L669.3,580.3 L672.5,578.9 L675.6,577.6 L678.5,576.4 L681.1,575.4 L683.5,574.7 L685.7,574.1 L687.8,573.6 L689.8,573.2 L691.8,572.6 L693.9,572.0 L696.0,571.1 L698.2,570.1 L700.4,569.2 L702.6,568.2 L704.8,567.1 L706.9,565.8 L709.1,564.3 L711.3,562.6 L713.5,560.6 L715.7,558.3 L717.9,555.7 L720.1,552.8 L722.3,549.8 L724.5,546.5 L726.7,543.2 L728.9,539.7 L731.0,536.1 L733.1,532.3 L735.2,528.3 L737.2,524.0 L739.3,519.7 L741.3,515.3 L743.2,511.0 L745.1,506.9 L747.0,503.0 L748.8,499.6 L750.4,496.5 L752.0,493.7 L753.6,491.0 L755.2,488.1 L756.8,484.8 L758.5,481.1 L760.3,476.6 L762.2,471.2 L764.3,464.8 L766.5,457.8 L768.6,450.5 L770.8,443.3 L773.0,436.4 L775.1,430.2 L777.0,425.0 L778.8,420.8 L780.6,417.1 L782.3,414.0 L784.0,411.4 L785.6,409.1 L787.2,407.0 L788.7,405.1 L790.3,403.3 L791.9,401.6 L793.4,400.2 L795.0,399.1 L796.5,398.1 L797.9,397.4 L799.4,396.8 L800.7,396.2 L802.0,395.8 L803.2,395.5 L804.2,395.2 L805.2,395.2 L806.1,395.2 L807.1,395.4 L808.1,395.7 L809.1,396.1 L810.3,396.6 L811.6,397.3 L812.9,398.1 L814.4,399.1 L815.8,400.2 L817.3,401.4 L818.9,402.6 L820.4,403.8 L822.0,405.0 L823.6,406.2 L825.2,407.5 L826.8,408.9 L828.4,410.3 L830.1,411.6 L831.8,412.9 L833.5,414.0 L835.3,415.0 L837.1,415.8 L838.9,416.6 L840.8,417.3 L842.7,417.8 L844.7,418.3 L846.5,418.7 L848.4,418.9 L850.2,419.1 L851.9,419.1 L853.6,419.0 L855.2,418.7 L856.8,418.4 L858.4,417.9 L860.1,417.5 L861.8,417.0 L863.6,416.6 L865.5,416.1 L867.6,415.4 L869.7,414.6 L871.9,413.8 L874.1,413.1 L876.2,412.6 L878.3,412.4 L880.2,412.5 L882.0,412.9 L883.8,413.6 L885.5,414.4 L887.2,415.4 L888.8,416.7 L890.4,418.1 L891.9,419.8 L893.5,421.6 L895.0,423.6 L896.5,425.8 L897.9,428.2 L899.4,430.8 L900.8,433.6 L902.2,436.7 L903.7,439.9 L905.2,443.3 L906.8,447.0 L908.5,451.1 L910.1,455.5 L911.9,460.0 L913.6,464.6 L915.3,469.3 L916.9,473.8 L918.5,478.2 L920.1,482.5 L921.6,486.9 L923.1,491.4 L924.6,495.8 L926.0,500.1 L927.4,504.1 L928.8,508.0 L930.2,511.5 L931.5,514.6 L932.6,517.2 L933.8,519.5 L934.8,521.6 L936.0,523.7 L937.2,526.0 L938.5,528.5 L940.0,531.5 L941.7,534.9 L943.5,538.7 L945.5,542.8 L947.5,547.0 L949.6,551.2 L951.7,555.4 L953.8,559.4 L955.8,563.0 L957.8,566.4 L959.7,569.6 L961.7,572.8 L963.6,575.8 L965.6,578.7 L967.6,581.4 L969.5,584.1 L971.5,586.8 L973.5,589.2 L975.4,591.6 L977.4,593.9 L979.4,596.0 L981.4,598.1 L983.4,600.1 L985.3,602.1 L987.3,604.1 L989.3,606.0 L991.2,607.9 L993.2,609.7 L995.1,611.5 L997.1,613.2 L999.1,614.9 L1001.0,616.6 L1003.0,618.3 L1004.9,620.0 L1006.6,621.6 L1008.3,623.1 L1010.0,624.7 L1011.8,626.2 L1013.8,627.8 L1016.2,629.3 L1018.9,630.9 L1022.1,632.5 L1025.7,634.2 L1029.6,635.9 L1033.7,637.5 L1037.9,639.2 L1042.2,640.7 L1046.4,642.2 L1050.4,643.5 L1054.3,644.7 L1058.3,645.7 L1062.2,646.7 L1066.2,647.6 L1070.2,648.4 L1074.1,649.2 L1078.1,649.9 L1082.0,650.6 L1086.0,651.3 L1090.0,651.8 L1094.0,652.4 L1098.1,652.9 L1102.1,653.3 L1106.0,653.7 L1109.8,654.2 L1113.5,654.6 L1116.4,655.0 L1118.2,655.4 L1119.5,655.7 L1120.9,656.0 L1123.1,656.3 L1126.6,656.7 L1132.0,657.2 L1140.0,657.7 L1151.7,658.4 L1167.2,659.2 L1185.1,660.1 L1204.1,661.0 L1222.8,662.0 L1240.1,662.8 L1254.5,663.5 L1264.8,664.0" fill="none" stroke="#eb0a14" stroke-width="3.9" stroke-linejoin="round" stroke-linecap="round" />
<path d="M147.0,969.0 L162.6,968.6 L169.0,967.0 L180.0,969.0 L198.6,968.6 L215.0,970.0 L228.0,976.5 L240.0,970.0 L256.4,967.8 L279.8,963.1 L287.6,965.5 L295.4,964.7 L303.2,956.9 L312.6,955.3 L323.6,956.9 L331.4,963.1 L342.3,958.4 L347.0,958.0 L362.6,953.9 L373.6,951.6 L381.4,955.5 L395.0,950.0 L409.5,946.0 L414.2,942.2 L425.0,948.4 L440.8,945.3 L454.8,929.7 L462.6,932.8 L472.0,935.9 L486.0,931.2 L497.0,937.5 L508.0,932.8 L518.9,945.3 L547.0,957.8 L570.4,962.0 L601.7,963.6 L617.3,958.1 L631.4,949.5 L640.8,951.9 L653.2,947.2 L662.6,938.6 L672.0,935.5 L682.9,926.9 L695.4,922.2 L703.2,919.0 L714.2,910.5 L725.1,905.0 L733.0,908.1 L742.3,894.8 L747.0,894.5 L754.8,897.8 L762.6,888.4 L775.0,870.0 L786.0,860.0 L792.7,858.8 L799.0,844.6 L813.2,809.9 L825.9,775.2 L836.9,784.6 L848.0,772.0 L857.4,775.2 L863.7,762.6 L877.9,708.9 L889.0,712.9 L907.9,743.6 L917.3,768.9 L928.4,820.9 L940.0,838.8 L949.4,859.0 L955.6,876.2 L960.3,895.0 L971.2,912.2 L980.6,920.0 L988.4,935.6 L999.4,948.0 L1011.9,962.2 L1021.2,957.5 L1032.2,968.4 L1041.6,966.0 L1054.0,970.0 L1068.0,970.0 L1090.0,971.0 L1110.0,975.0 L1135.0,982.0 L1160.0,978.0 L1190.0,981.0 L1220.0,978.0 L1250.0,981.0 L1278.0,980.0" fill="none" stroke="#000" stroke-width="4.0" stroke-linejoin="round" stroke-linecap="round" />
<path d="M148.0,970.2 L151.0,970.2 L154.0,970.2 L157.0,970.2 L160.0,970.1 L163.0,970.1 L166.0,970.1 L169.0,970.1 L172.0,970.1 L175.0,970.1 L178.0,970.1 L181.0,970.1 L184.0,970.0 L187.0,970.0 L190.0,970.0 L193.0,970.0 L196.0,970.0 L199.0,970.0 L202.0,970.0 L205.0,969.9 L208.0,969.9 L211.0,969.9 L214.0,969.9 L217.0,969.9 L220.0,969.8 L223.0,969.8 L226.0,969.8 L229.0,969.8 L232.0,969.8 L235.0,969.7 L238.0,969.7 L241.0,969.7 L244.0,969.7 L247.0,969.6 L250.0,969.6 L253.0,969.6 L256.0,969.5 L259.0,969.5 L262.0,969.5 L265.0,969.4 L268.0,969.4 L271.0,969.4 L274.0,969.3 L277.0,969.3 L280.0,969.2 L283.0,969.2 L286.0,969.1 L289.0,969.1 L292.0,969.0 L295.0,968.9 L298.0,968.9 L301.0,968.8 L304.0,968.7 L307.0,968.6 L310.0,968.5 L313.0,968.4 L316.0,968.3 L319.0,968.2 L322.0,968.0 L325.0,967.9 L328.0,967.7 L331.0,967.5 L334.0,967.3 L337.0,967.1 L340.0,966.8 L343.0,966.6 L346.0,966.3 L349.0,965.9 L352.0,965.6 L355.0,965.2 L358.0,964.8 L361.0,964.3 L364.0,963.8 L367.0,963.2 L370.0,962.6 L373.0,962.0 L376.0,961.3 L379.0,960.5 L382.0,959.7 L385.0,958.9 L388.0,958.0 L391.0,957.0 L394.0,956.1 L397.0,955.0 L400.0,953.9 L403.0,952.8 L406.0,951.6 L409.0,950.5 L412.0,949.2 L415.0,948.0 L418.0,946.7 L421.0,945.5 L424.0,944.2 L427.0,943.0 L430.0,941.8 L433.0,940.7 L436.0,939.6 L439.0,938.6 L442.0,937.6 L445.0,936.8 L448.0,936.1 L451.0,935.6 L454.0,935.2 L457.0,934.9 L460.0,934.8 L463.0,934.9 L466.0,935.1 L469.0,935.6 L472.0,936.1 L475.0,936.8 L478.0,937.6 L481.0,938.5 L484.0,939.6 L487.0,940.7 L490.0,941.8 L493.0,943.1 L496.0,944.3 L499.0,945.6 L502.0,946.9 L505.0,948.2 L508.0,949.4 L511.0,950.7 L514.0,951.9 L517.0,953.1 L520.0,954.3 L523.0,955.4 L526.0,956.5 L529.0,957.5 L532.0,958.5 L535.0,959.4 L538.0,960.3 L541.0,961.2 L544.0,961.9 L547.0,962.7 L550.0,963.3 L553.0,964.0 L556.0,964.6 L559.0,965.1 L562.0,965.6 L565.0,966.1 L568.0,966.5 L571.0,966.9 L574.0,967.2 L577.0,967.5 L580.0,967.8 L583.0,968.1 L586.0,968.3 L589.0,968.6 L592.0,968.8 L595.0,969.0 L598.0,969.1 L601.0,969.3 L604.0,969.4 L607.0,969.5 L610.0,969.7 L613.0,969.8 L616.0,969.9 L619.0,970.0 L622.0,970.1 L625.0,970.1 L628.0,970.2 L631.0,970.3 L634.0,970.4 L637.0,970.4 L640.0,970.5 L643.0,970.5 L646.0,970.6 L649.0,970.6 L652.0,970.7 L655.0,970.7 L658.0,970.8 L661.0,970.8 L664.0,970.9 L667.0,970.9 L670.0,971.0 L673.0,971.0 L676.0,971.1 L679.0,971.1 L682.0,971.1 L685.0,971.2 L688.0,971.2 L691.0,971.3 L694.0,971.3 L697.0,971.3 L700.0,971.4 L703.0,971.4 L706.0,971.4 L709.0,971.5 L712.0,971.5 L715.0,971.6 L718.0,971.6 L721.0,971.6 L724.0,971.7 L727.0,971.7 L730.0,971.8 L733.0,971.8 L736.0,971.8 L739.0,971.9 L742.0,971.9 L745.0,972.0 L748.0,972.0 L751.0,972.1 L754.0,972.1 L757.0,972.2 L760.0,972.2 L763.0,972.3 L766.0,972.4 L769.0,972.4 L772.0,972.5 L775.0,972.6 L778.0,972.6 L781.0,972.7 L784.0,972.8 L787.0,972.9 L790.0,972.9 L793.0,973.0 L796.0,973.1 L799.0,973.2 L802.0,973.3 L805.0,973.4 L808.0,973.6 L811.0,973.7 L814.0,973.8 L817.0,973.9 L820.0,974.0 L823.0,974.1 L826.0,974.3 L829.0,974.4 L832.0,974.5 L835.0,974.6 L838.0,974.7 L841.0,974.9 L844.0,975.0 L847.0,975.1 L850.0,975.2 L853.0,975.4 L856.0,975.5 L859.0,975.6 L862.0,975.7 L865.0,975.9 L868.0,976.0 L871.0,976.2 L874.0,976.3 L877.0,976.4 L880.0,976.6 L883.0,976.7 L886.0,976.8 L889.0,977.0 L892.0,977.1 L895.0,977.2 L898.0,977.4 L901.0,977.5 L904.0,977.6 L907.0,977.8 L910.0,977.9 L913.0,978.0 L916.0,978.1 L919.0,978.2 L922.0,978.3 L925.0,978.4 L928.0,978.5 L931.0,978.6 L934.0,978.6 L937.0,978.7 L940.0,978.8 L943.0,978.8 L946.0,978.9 L949.0,979.0 L952.0,979.0 L955.0,979.1 L958.0,979.1 L961.0,979.2 L964.0,979.2 L967.0,979.3 L970.0,979.3 L973.0,979.3 L976.0,979.4 L979.0,979.4 L982.0,979.4 L985.0,979.5 L988.0,979.5 L991.0,979.5 L994.0,979.6 L997.0,979.6 L1000.0,979.6 L1003.0,979.6 L1006.0,979.6 L1009.0,979.6 L1012.0,979.7 L1015.0,979.7 L1018.0,979.7 L1021.0,979.7 L1024.0,979.7 L1027.0,979.7 L1030.0,979.7 L1033.0,979.8 L1036.0,979.8 L1039.0,979.8 L1042.0,979.8 L1045.0,979.8 L1048.0,979.8 L1051.0,979.8 L1054.0,979.8 L1057.0,979.8 L1060.0,979.8 L1063.0,979.9 L1066.0,979.9 L1069.0,979.9 L1072.0,979.9 L1075.0,979.9 L1078.0,979.9 L1081.0,979.9 L1084.0,979.9 L1087.0,979.9 L1090.0,979.9 L1093.0,979.9 L1096.0,979.9 L1099.0,979.9 L1102.0,979.9 L1105.0,979.9 L1108.0,979.9 L1111.0,979.9 L1114.0,979.9 L1117.0,979.9 L1120.0,980.0 L1123.0,980.0 L1126.0,980.0 L1129.0,980.0 L1132.0,980.0 L1135.0,980.0 L1138.0,980.0 L1141.0,980.0 L1144.0,980.0 L1147.0,980.0 L1150.0,980.0 L1153.0,980.0 L1156.0,980.0 L1159.0,980.0 L1162.0,980.0 L1165.0,980.0 L1168.0,980.0 L1171.0,980.0 L1174.0,980.0 L1177.0,980.0 L1180.0,980.0 L1183.0,980.0 L1186.0,980.0 L1189.0,980.0 L1192.0,980.0 L1195.0,980.0 L1198.0,980.0 L1201.0,980.0 L1204.0,980.0 L1207.0,980.0 L1210.0,980.0 L1213.0,980.0 L1216.0,980.0 L1219.0,980.0 L1222.0,980.0 L1225.0,980.0 L1228.0,980.0 L1231.0,980.0 L1234.0,980.0 L1237.0,980.0 L1240.0,980.0 L1243.0,980.0 L1246.0,980.0 L1249.0,980.0 L1252.0,980.0 L1255.0,980.0 L1258.0,980.0 L1261.0,980.0 L1264.0,980.0 L1267.0,980.0 L1270.0,980.0 L1273.0,980.0 L1276.0,980.0 L1277.0,980.0" fill="none" stroke="#f00ae6" stroke-width="3.7" stroke-linejoin="round" stroke-linecap="round" />
<path d="M148.0,974.6 L151.0,974.6 L154.0,974.6 L157.0,974.6 L160.0,974.6 L163.0,974.6 L166.0,974.6 L169.0,974.6 L172.0,974.6 L175.0,974.6 L178.0,974.6 L181.0,974.5 L184.0,974.5 L187.0,974.5 L190.0,974.5 L193.0,974.5 L196.0,974.5 L199.0,974.5 L202.0,974.5 L205.0,974.5 L208.0,974.5 L211.0,974.5 L214.0,974.5 L217.0,974.5 L220.0,974.5 L223.0,974.4 L226.0,974.4 L229.0,974.4 L232.0,974.4 L235.0,974.4 L238.0,974.4 L241.0,974.4 L244.0,974.4 L247.0,974.4 L250.0,974.4 L253.0,974.4 L256.0,974.4 L259.0,974.3 L262.0,974.3 L265.0,974.3 L268.0,974.3 L271.0,974.3 L274.0,974.3 L277.0,974.3 L280.0,974.3 L283.0,974.3 L286.0,974.3 L289.0,974.2 L292.0,974.2 L295.0,974.2 L298.0,974.2 L301.0,974.2 L304.0,974.2 L307.0,974.2 L310.0,974.2 L313.0,974.2 L316.0,974.1 L319.0,974.1 L322.0,974.1 L325.0,974.1 L328.0,974.1 L331.0,974.1 L334.0,974.1 L337.0,974.0 L340.0,974.0 L343.0,974.0 L346.0,974.0 L349.0,974.0 L352.0,974.0 L355.0,974.0 L358.0,973.9 L361.0,973.9 L364.0,973.9 L367.0,973.9 L370.0,973.9 L373.0,973.9 L376.0,973.8 L379.0,973.8 L382.0,973.8 L385.0,973.8 L388.0,973.8 L391.0,973.8 L394.0,973.7 L397.0,973.7 L400.0,973.7 L403.0,973.7 L406.0,973.7 L409.0,973.6 L412.0,973.6 L415.0,973.6 L418.0,973.6 L421.0,973.5 L424.0,973.5 L427.0,973.5 L430.0,973.5 L433.0,973.5 L436.0,973.4 L439.0,973.4 L442.0,973.4 L445.0,973.4 L448.0,973.3 L451.0,973.3 L454.0,973.3 L457.0,973.2 L460.0,973.2 L463.0,973.2 L466.0,973.2 L469.0,973.1 L472.0,973.1 L475.0,973.1 L478.0,973.0 L481.0,973.0 L484.0,972.9 L487.0,972.9 L490.0,972.9 L493.0,972.8 L496.0,972.8 L499.0,972.7 L502.0,972.7 L505.0,972.6 L508.0,972.6 L511.0,972.5 L514.0,972.5 L517.0,972.4 L520.0,972.4 L523.0,972.3 L526.0,972.2 L529.0,972.2 L532.0,972.1 L535.0,972.0 L538.0,972.0 L541.0,971.9 L544.0,971.8 L547.0,971.7 L550.0,971.7 L553.0,971.6 L556.0,971.5 L559.0,971.4 L562.0,971.3 L565.0,971.2 L568.0,971.1 L571.0,971.0 L574.0,970.9 L577.0,970.8 L580.0,970.7 L583.0,970.6 L586.0,970.4 L589.0,970.3 L592.0,970.2 L595.0,970.0 L598.0,969.9 L601.0,969.8 L604.0,969.6 L607.0,969.4 L610.0,969.3 L613.0,969.1 L616.0,968.9 L619.0,968.7 L622.0,968.5 L625.0,968.3 L628.0,968.1 L631.0,967.9 L634.0,967.6 L637.0,967.4 L640.0,967.1 L643.0,966.8 L646.0,966.6 L649.0,966.2 L652.0,965.9 L655.0,965.6 L658.0,965.2 L661.0,964.9 L664.0,964.5 L667.0,964.0 L670.0,963.6 L673.0,963.1 L676.0,962.6 L679.0,962.1 L682.0,961.5 L685.0,960.9 L688.0,960.2 L691.0,959.5 L694.0,958.7 L697.0,957.9 L700.0,957.0 L703.0,956.1 L706.0,955.1 L709.0,954.0 L712.0,952.8 L715.0,951.5 L718.0,950.1 L721.0,948.6 L724.0,947.0 L727.0,945.3 L730.0,943.4 L733.0,941.4 L736.0,939.2 L739.0,936.9 L742.0,934.5 L745.0,931.8 L748.0,929.0 L751.0,926.0 L754.0,922.8 L757.0,919.4 L760.0,915.9 L763.0,912.1 L766.0,908.2 L769.0,904.1 L772.0,899.9 L775.0,895.6 L778.0,891.1 L781.0,886.6 L784.0,882.2 L787.0,877.7 L790.0,873.5 L793.0,869.4 L796.0,865.7 L799.0,862.3 L802.0,859.5 L805.0,857.2 L808.0,855.6 L811.0,854.7 L814.0,854.6 L817.0,855.1 L820.0,856.5 L823.0,858.5 L826.0,861.1 L829.0,864.2 L832.0,867.9 L835.0,871.8 L838.0,876.0 L841.0,880.4 L844.0,884.9 L847.0,889.5 L850.0,894.0 L853.0,898.4 L856.0,902.8 L859.0,907.0 L862.0,911.0 L865.0,914.9 L868.0,918.6 L871.0,922.1 L874.0,925.4 L877.0,928.6 L880.0,931.5 L883.0,934.3 L886.0,936.9 L889.0,939.3 L892.0,941.6 L895.0,943.7 L898.0,945.7 L901.0,947.5 L904.0,949.2 L907.0,950.8 L910.0,952.3 L913.0,953.6 L916.0,954.9 L919.0,956.1 L922.0,957.2 L925.0,958.2 L928.0,959.1 L931.0,960.0 L934.0,960.8 L937.0,961.6 L940.0,962.3 L943.0,962.9 L946.0,963.6 L949.0,964.1 L952.0,964.7 L955.0,965.2 L958.0,965.7 L961.0,966.1 L964.0,966.5 L967.0,966.9 L970.0,967.3 L973.0,967.7 L976.0,968.0 L979.0,968.3 L982.0,968.6 L985.0,968.9 L988.0,969.2 L991.0,969.5 L994.0,969.7 L997.0,970.0 L1000.0,970.2 L1003.0,970.4 L1006.0,970.6 L1009.0,970.8 L1012.0,971.0 L1015.0,971.2 L1018.0,971.4 L1021.0,971.5 L1024.0,971.7 L1027.0,971.9 L1030.0,972.0 L1033.0,972.2 L1036.0,972.3 L1039.0,972.4 L1042.0,972.6 L1045.0,972.7 L1048.0,972.8 L1051.0,972.9 L1054.0,973.0 L1057.0,973.1 L1060.0,973.2 L1063.0,973.3 L1066.0,973.4 L1069.0,973.5 L1072.0,973.6 L1075.0,973.7 L1078.0,973.8 L1081.0,973.9 L1084.0,974.0 L1087.0,974.0 L1090.0,974.1 L1093.0,974.2 L1096.0,974.3 L1099.0,974.3 L1102.0,974.4 L1105.0,974.5 L1108.0,974.5 L1111.0,974.6 L1114.0,974.6 L1117.0,974.7 L1120.0,974.8 L1123.0,974.8 L1126.0,974.9 L1129.0,974.9 L1132.0,975.0 L1135.0,975.0 L1138.0,975.1 L1141.0,975.1 L1144.0,975.2 L1147.0,975.2 L1150.0,975.2 L1153.0,975.3 L1156.0,975.3 L1159.0,975.4 L1162.0,975.4 L1165.0,975.4 L1168.0,975.5 L1171.0,975.5 L1174.0,975.5 L1177.0,975.6 L1180.0,975.6 L1183.0,975.6 L1186.0,975.7 L1189.0,975.7 L1192.0,975.7 L1195.0,975.8 L1198.0,975.8 L1201.0,975.8 L1204.0,975.8 L1207.0,975.9 L1210.0,975.9 L1213.0,975.9 L1216.0,975.9 L1219.0,976.0 L1222.0,976.0 L1225.0,976.0 L1228.0,976.0 L1231.0,976.1 L1234.0,976.1 L1237.0,976.1 L1240.0,976.1 L1243.0,976.1 L1246.0,976.2 L1249.0,976.2 L1252.0,976.2 L1255.0,976.2 L1258.0,976.2 L1261.0,976.3 L1264.0,976.3 L1267.0,976.3 L1270.0,976.3 L1273.0,976.3 L1276.0,976.3 L1277.0,976.4" fill="none" stroke="#18f018" stroke-width="3.7" stroke-linejoin="round" stroke-linecap="round" />
<path d="M148.0,972.4 L151.0,972.4 L154.0,972.4 L157.0,972.4 L160.0,972.4 L163.0,972.3 L166.0,972.3 L169.0,972.3 L172.0,972.3 L175.0,972.3 L178.0,972.3 L181.0,972.3 L184.0,972.3 L187.0,972.3 L190.0,972.3 L193.0,972.3 L196.0,972.3 L199.0,972.3 L202.0,972.3 L205.0,972.3 L208.0,972.3 L211.0,972.2 L214.0,972.2 L217.0,972.2 L220.0,972.2 L223.0,972.2 L226.0,972.2 L229.0,972.2 L232.0,972.2 L235.0,972.2 L238.0,972.2 L241.0,972.2 L244.0,972.2 L247.0,972.2 L250.0,972.1 L253.0,972.1 L256.0,972.1 L259.0,972.1 L262.0,972.1 L265.0,972.1 L268.0,972.1 L271.0,972.1 L274.0,972.1 L277.0,972.1 L280.0,972.1 L283.0,972.1 L286.0,972.0 L289.0,972.0 L292.0,972.0 L295.0,972.0 L298.0,972.0 L301.0,972.0 L304.0,972.0 L307.0,972.0 L310.0,972.0 L313.0,972.0 L316.0,971.9 L319.0,971.9 L322.0,971.9 L325.0,971.9 L328.0,971.9 L331.0,971.9 L334.0,971.9 L337.0,971.9 L340.0,971.9 L343.0,971.8 L346.0,971.8 L349.0,971.8 L352.0,971.8 L355.0,971.8 L358.0,971.8 L361.0,971.8 L364.0,971.8 L367.0,971.7 L370.0,971.7 L373.0,971.7 L376.0,971.7 L379.0,971.7 L382.0,971.7 L385.0,971.7 L388.0,971.7 L391.0,971.6 L394.0,971.6 L397.0,971.6 L400.0,971.6 L403.0,971.6 L406.0,971.6 L409.0,971.6 L412.0,971.5 L415.0,971.5 L418.0,971.5 L421.0,971.5 L424.0,971.5 L427.0,971.5 L430.0,971.5 L433.0,971.4 L436.0,971.4 L439.0,971.4 L442.0,971.4 L445.0,971.4 L448.0,971.4 L451.0,971.3 L454.0,971.3 L457.0,971.3 L460.0,971.3 L463.0,971.3 L466.0,971.3 L469.0,971.2 L472.0,971.2 L475.0,971.2 L478.0,971.2 L481.0,971.2 L484.0,971.1 L487.0,971.1 L490.0,971.1 L493.0,971.0 L496.0,971.0 L499.0,971.0 L502.0,971.0 L505.0,970.9 L508.0,970.9 L511.0,970.9 L514.0,970.8 L517.0,970.8 L520.0,970.8 L523.0,970.7 L526.0,970.7 L529.0,970.6 L532.0,970.6 L535.0,970.6 L538.0,970.5 L541.0,970.5 L544.0,970.4 L547.0,970.4 L550.0,970.3 L553.0,970.3 L556.0,970.2 L559.0,970.2 L562.0,970.1 L565.0,970.1 L568.0,970.0 L571.0,969.9 L574.0,969.9 L577.0,969.8 L580.0,969.7 L583.0,969.7 L586.0,969.6 L589.0,969.5 L592.0,969.5 L595.0,969.4 L598.0,969.3 L601.0,969.2 L604.0,969.1 L607.0,969.0 L610.0,969.0 L613.0,968.9 L616.0,968.8 L619.0,968.7 L622.0,968.6 L625.0,968.5 L628.0,968.4 L631.0,968.2 L634.0,968.1 L637.0,968.0 L640.0,967.9 L643.0,967.8 L646.0,967.6 L649.0,967.5 L652.0,967.3 L655.0,967.2 L658.0,967.0 L661.0,966.9 L664.0,966.7 L667.0,966.5 L670.0,966.4 L673.0,966.2 L676.0,966.0 L679.0,965.8 L682.0,965.6 L685.0,965.4 L688.0,965.1 L691.0,964.9 L694.0,964.6 L697.0,964.4 L700.0,964.1 L703.0,963.8 L706.0,963.5 L709.0,963.2 L712.0,962.9 L715.0,962.6 L718.0,962.2 L721.0,961.8 L724.0,961.5 L727.0,961.0 L730.0,960.6 L733.0,960.1 L736.0,959.7 L739.0,959.1 L742.0,958.6 L745.0,958.0 L748.0,957.4 L751.0,956.7 L754.0,956.0 L757.0,955.2 L760.0,954.4 L763.0,953.5 L766.0,952.6 L769.0,951.6 L772.0,950.5 L775.0,949.3 L778.0,948.0 L781.0,946.6 L784.0,945.1 L787.0,943.4 L790.0,941.7 L793.0,939.8 L796.0,937.7 L799.0,935.4 L802.0,933.0 L805.0,930.4 L808.0,927.5 L811.0,924.5 L814.0,921.2 L817.0,917.7 L820.0,914.0 L823.0,909.9 L826.0,905.7 L829.0,901.1 L832.0,896.3 L835.0,891.2 L838.0,885.9 L841.0,880.3 L844.0,874.5 L847.0,868.5 L850.0,862.3 L853.0,856.0 L856.0,849.6 L859.0,843.2 L862.0,836.9 L865.0,830.7 L868.0,824.9 L871.0,819.4 L874.0,814.6 L877.0,810.3 L880.0,806.9 L883.0,804.3 L886.0,802.8 L889.0,802.2 L892.0,802.8 L895.0,804.3 L898.0,806.9 L901.0,810.3 L904.0,814.6 L907.0,819.5 L910.0,825.0 L913.0,830.9 L916.0,837.1 L919.0,843.5 L922.0,849.9 L925.0,856.4 L928.0,862.8 L931.0,869.1 L934.0,875.2 L937.0,881.1 L940.0,886.8 L943.0,892.2 L946.0,897.4 L949.0,902.3 L952.0,906.9 L955.0,911.3 L958.0,915.4 L961.0,919.2 L964.0,922.8 L967.0,926.2 L970.0,929.3 L973.0,932.2 L976.0,934.9 L979.0,937.4 L982.0,939.7 L985.0,941.8 L988.0,943.8 L991.0,945.6 L994.0,947.3 L997.0,948.9 L1000.0,950.3 L1003.0,951.6 L1006.0,952.9 L1009.0,954.0 L1012.0,955.1 L1015.0,956.0 L1018.0,956.9 L1021.0,957.8 L1024.0,958.6 L1027.0,959.3 L1030.0,960.0 L1033.0,960.7 L1036.0,961.3 L1039.0,961.8 L1042.0,962.4 L1045.0,962.9 L1048.0,963.3 L1051.0,963.8 L1054.0,964.2 L1057.0,964.6 L1060.0,965.0 L1063.0,965.4 L1066.0,965.7 L1069.0,966.1 L1072.0,966.4 L1075.0,966.7 L1078.0,967.0 L1081.0,967.3 L1084.0,967.5 L1087.0,967.8 L1090.0,968.0 L1093.0,968.2 L1096.0,968.5 L1099.0,968.7 L1102.0,968.9 L1105.0,969.1 L1108.0,969.3 L1111.0,969.5 L1114.0,969.7 L1117.0,969.8 L1120.0,970.0 L1123.0,970.1 L1126.0,970.3 L1129.0,970.4 L1132.0,970.6 L1135.0,970.7 L1138.0,970.9 L1141.0,971.0 L1144.0,971.1 L1147.0,971.2 L1150.0,971.4 L1153.0,971.5 L1156.0,971.6 L1159.0,971.7 L1162.0,971.8 L1165.0,971.9 L1168.0,972.0 L1171.0,972.1 L1174.0,972.2 L1177.0,972.2 L1180.0,972.3 L1183.0,972.4 L1186.0,972.5 L1189.0,972.6 L1192.0,972.6 L1195.0,972.7 L1198.0,972.8 L1201.0,972.9 L1204.0,972.9 L1207.0,973.0 L1210.0,973.1 L1213.0,973.1 L1216.0,973.2 L1219.0,973.2 L1222.0,973.3 L1225.0,973.4 L1228.0,973.4 L1231.0,973.5 L1234.0,973.5 L1237.0,973.6 L1240.0,973.6 L1243.0,973.7 L1246.0,973.7 L1249.0,973.8 L1252.0,973.8 L1255.0,973.8 L1258.0,973.9 L1261.0,973.9 L1264.0,974.0 L1267.0,974.0 L1270.0,974.0 L1273.0,974.1 L1276.0,974.1 L1277.0,974.1" fill="none" stroke="#0c00ee" stroke-width="3.7" stroke-linejoin="round" stroke-linecap="round" />
<path d="M148.0,974.2 L151.0,974.2 L154.0,974.2 L157.0,974.2 L160.0,974.2 L163.0,974.2 L166.0,974.2 L169.0,974.2 L172.0,974.2 L175.0,974.2 L178.0,974.2 L181.0,974.2 L184.0,974.2 L187.0,974.2 L190.0,974.1 L193.0,974.1 L196.0,974.1 L199.0,974.1 L202.0,974.1 L205.0,974.1 L208.0,974.1 L211.0,974.1 L214.0,974.1 L217.0,974.1 L220.0,974.1 L223.0,974.1 L226.0,974.1 L229.0,974.1 L232.0,974.1 L235.0,974.1 L238.0,974.1 L241.0,974.1 L244.0,974.1 L247.0,974.1 L250.0,974.1 L253.0,974.1 L256.0,974.0 L259.0,974.0 L262.0,974.0 L265.0,974.0 L268.0,974.0 L271.0,974.0 L274.0,974.0 L277.0,974.0 L280.0,974.0 L283.0,974.0 L286.0,974.0 L289.0,974.0 L292.0,974.0 L295.0,974.0 L298.0,974.0 L301.0,974.0 L304.0,973.9 L307.0,973.9 L310.0,973.9 L313.0,973.9 L316.0,973.9 L319.0,973.9 L322.0,973.9 L325.0,973.9 L328.0,973.9 L331.0,973.9 L334.0,973.9 L337.0,973.9 L340.0,973.9 L343.0,973.8 L346.0,973.8 L349.0,973.8 L352.0,973.8 L355.0,973.8 L358.0,973.8 L361.0,973.8 L364.0,973.8 L367.0,973.8 L370.0,973.8 L373.0,973.7 L376.0,973.7 L379.0,973.7 L382.0,973.7 L385.0,973.7 L388.0,973.7 L391.0,973.7 L394.0,973.7 L397.0,973.6 L400.0,973.6 L403.0,973.6 L406.0,973.6 L409.0,973.6 L412.0,973.6 L415.0,973.6 L418.0,973.5 L421.0,973.5 L424.0,973.5 L427.0,973.5 L430.0,973.5 L433.0,973.5 L436.0,973.5 L439.0,973.4 L442.0,973.4 L445.0,973.4 L448.0,973.4 L451.0,973.4 L454.0,973.3 L457.0,973.3 L460.0,973.3 L463.0,973.3 L466.0,973.2 L469.0,973.2 L472.0,973.2 L475.0,973.2 L478.0,973.1 L481.0,973.1 L484.0,973.1 L487.0,973.0 L490.0,973.0 L493.0,972.9 L496.0,972.9 L499.0,972.9 L502.0,972.8 L505.0,972.8 L508.0,972.7 L511.0,972.6 L514.0,972.6 L517.0,972.5 L520.0,972.5 L523.0,972.4 L526.0,972.3 L529.0,972.2 L532.0,972.2 L535.0,972.1 L538.0,972.0 L541.0,971.9 L544.0,971.8 L547.0,971.6 L550.0,971.5 L553.0,971.4 L556.0,971.2 L559.0,971.1 L562.0,970.9 L565.0,970.7 L568.0,970.5 L571.0,970.3 L574.0,970.1 L577.0,969.8 L580.0,969.6 L583.0,969.3 L586.0,969.0 L589.0,968.7 L592.0,968.3 L595.0,967.9 L598.0,967.5 L601.0,967.1 L604.0,966.6 L607.0,966.1 L610.0,965.6 L613.0,965.0 L616.0,964.4 L619.0,963.7 L622.0,963.1 L625.0,962.3 L628.0,961.6 L631.0,960.8 L634.0,959.9 L637.0,959.0 L640.0,958.1 L643.0,957.1 L646.0,956.1 L649.0,955.1 L652.0,954.1 L655.0,953.0 L658.0,951.9 L661.0,950.7 L664.0,949.6 L667.0,948.5 L670.0,947.3 L673.0,946.2 L676.0,945.2 L679.0,944.1 L682.0,943.1 L685.0,942.2 L688.0,941.4 L691.0,940.7 L694.0,940.1 L697.0,939.6 L700.0,939.3 L703.0,939.1 L706.0,939.0 L709.0,939.1 L712.0,939.4 L715.0,939.8 L718.0,940.3 L721.0,941.0 L724.0,941.7 L727.0,942.6 L730.0,943.6 L733.0,944.6 L736.0,945.6 L739.0,946.7 L742.0,947.9 L745.0,949.0 L748.0,950.2 L751.0,951.3 L754.0,952.4 L757.0,953.6 L760.0,954.7 L763.0,955.7 L766.0,956.8 L769.0,957.8 L772.0,958.8 L775.0,959.7 L778.0,960.6 L781.0,961.5 L784.0,962.3 L787.0,963.1 L790.0,963.8 L793.0,964.5 L796.0,965.2 L799.0,965.8 L802.0,966.4 L805.0,967.0 L808.0,967.5 L811.0,968.0 L814.0,968.5 L817.0,968.9 L820.0,969.4 L823.0,969.8 L826.0,970.1 L829.0,970.5 L832.0,970.8 L835.0,971.1 L838.0,971.4 L841.0,971.6 L844.0,971.9 L847.0,972.1 L850.0,972.4 L853.0,972.6 L856.0,972.8 L859.0,973.0 L862.0,973.1 L865.0,973.3 L868.0,973.5 L871.0,973.6 L874.0,973.8 L877.0,973.9 L880.0,974.1 L883.0,974.2 L886.0,974.4 L889.0,974.5 L892.0,974.6 L895.0,974.7 L898.0,974.8 L901.0,974.9 L904.0,975.1 L907.0,975.2 L910.0,975.3 L913.0,975.3 L916.0,975.4 L919.0,975.5 L922.0,975.6 L925.0,975.7 L928.0,975.8 L931.0,975.8 L934.0,975.9 L937.0,976.0 L940.0,976.0 L943.0,976.1 L946.0,976.1 L949.0,976.2 L952.0,976.3 L955.0,976.3 L958.0,976.3 L961.0,976.4 L964.0,976.4 L967.0,976.5 L970.0,976.5 L973.0,976.6 L976.0,976.6 L979.0,976.6 L982.0,976.7 L985.0,976.7 L988.0,976.7 L991.0,976.8 L994.0,976.8 L997.0,976.8 L1000.0,976.8 L1003.0,976.9 L1006.0,976.9 L1009.0,976.9 L1012.0,976.9 L1015.0,977.0 L1018.0,977.0 L1021.0,977.0 L1024.0,977.0 L1027.0,977.0 L1030.0,977.1 L1033.0,977.1 L1036.0,977.1 L1039.0,977.1 L1042.0,977.1 L1045.0,977.2 L1048.0,977.2 L1051.0,977.2 L1054.0,977.2 L1057.0,977.2 L1060.0,977.2 L1063.0,977.2 L1066.0,977.3 L1069.0,977.3 L1072.0,977.3 L1075.0,977.3 L1078.0,977.3 L1081.0,977.3 L1084.0,977.3 L1087.0,977.3 L1090.0,977.3 L1093.0,977.4 L1096.0,977.4 L1099.0,977.4 L1102.0,977.4 L1105.0,977.4 L1108.0,977.4 L1111.0,977.4 L1114.0,977.4 L1117.0,977.4 L1120.0,977.4 L1123.0,977.4 L1126.0,977.5 L1129.0,977.5 L1132.0,977.5 L1135.0,977.5 L1138.0,977.5 L1141.0,977.5 L1144.0,977.5 L1147.0,977.5 L1150.0,977.5 L1153.0,977.5 L1156.0,977.5 L1159.0,977.5 L1162.0,977.5 L1165.0,977.5 L1168.0,977.5 L1171.0,977.6 L1174.0,977.6 L1177.0,977.6 L1180.0,977.6 L1183.0,977.6 L1186.0,977.6 L1189.0,977.6 L1192.0,977.6 L1195.0,977.6 L1198.0,977.6 L1201.0,977.6 L1204.0,977.6 L1207.0,977.6 L1210.0,977.6 L1213.0,977.6 L1216.0,977.6 L1219.0,977.6 L1222.0,977.6 L1225.0,977.6 L1228.0,977.6 L1231.0,977.6 L1234.0,977.6 L1237.0,977.7 L1240.0,977.7 L1243.0,977.7 L1246.0,977.7 L1249.0,977.7 L1252.0,977.7 L1255.0,977.7 L1258.0,977.7 L1261.0,977.7 L1264.0,977.7 L1267.0,977.7 L1270.0,977.7 L1273.0,977.7 L1276.0,977.7 L1277.0,977.7" fill="none" stroke="#14f5f0" stroke-width="3.7" stroke-linejoin="round" stroke-linecap="round" />
<path d="M147.0,969.4 L155.9,969.3 L168.1,969.3 L182.8,969.2 L198.8,969.1 L215.1,969.0 L230.9,968.9 L245.0,968.8 L256.4,968.6 L265.3,968.4 L272.6,968.1 L278.7,967.9 L283.9,967.6 L288.7,967.3 L293.2,966.9 L298.0,966.6 L303.2,966.2 L309.0,965.9 L314.7,965.5 L320.4,965.2 L326.1,964.8 L331.6,964.4 L337.0,964.0 L342.2,963.5 L347.0,963.0 L351.5,962.5 L355.7,962.0 L359.6,961.4 L363.4,960.9 L367.1,960.3 L370.7,959.5 L374.4,958.7 L378.2,957.8 L382.2,956.7 L386.2,955.4 L390.3,954.0 L394.4,952.5 L398.3,951.0 L402.2,949.5 L406.0,948.2 L409.5,946.9 L412.8,945.8 L416.0,944.7 L419.0,943.6 L421.8,942.6 L424.7,941.6 L427.4,940.7 L430.2,939.8 L433.0,939.0 L435.8,938.2 L438.7,937.3 L441.5,936.5 L444.3,935.7 L447.0,935.0 L449.7,934.4 L452.3,933.9 L454.8,933.6 L457.1,933.4 L459.3,933.4 L461.3,933.5 L463.3,933.7 L465.3,934.0 L467.4,934.3 L469.6,934.7 L472.0,935.2 L474.6,935.7 L477.4,936.4 L480.3,937.2 L483.3,938.0 L486.3,938.8 L489.4,939.7 L492.4,940.6 L495.4,941.4 L498.3,942.2 L501.2,943.1 L504.0,943.9 L506.9,944.8 L509.7,945.7 L512.7,946.6 L515.7,947.5 L518.9,948.4 L522.2,949.4 L525.5,950.4 L529.0,951.4 L532.5,952.5 L536.0,953.5 L539.6,954.4 L543.3,955.3 L547.0,956.0 L550.8,956.6 L554.6,957.1 L558.5,957.5 L562.4,957.9 L566.4,958.2 L570.4,958.4 L574.3,958.7 L578.2,958.9 L582.2,959.1 L586.1,959.3 L590.0,959.5 L593.9,959.7 L597.8,959.8 L601.7,959.8 L605.6,959.8 L609.5,959.7 L613.4,959.5 L617.3,959.3 L621.2,958.9 L625.1,958.6 L629.0,958.1 L632.9,957.6 L636.8,957.1 L640.8,956.6 L644.7,956.0 L648.6,955.4 L652.5,954.8 L656.4,954.1 L660.3,953.4 L664.2,952.7 L668.1,951.9 L672.0,951.0 L676.0,950.1 L680.2,949.0 L684.4,947.9 L688.6,946.8 L692.7,945.7 L696.5,944.5 L700.1,943.5 L703.2,942.5 L706.0,941.7 L708.3,940.9 L710.3,940.3 L712.1,939.6 L713.7,939.0 L715.4,938.2 L717.1,937.3 L718.9,936.2 L720.9,935.0 L722.9,933.5 L724.9,931.9 L726.9,930.3 L728.9,928.6 L730.8,926.9 L732.7,925.3 L734.5,923.8 L736.2,922.4 L737.8,921.1 L739.3,919.9 L740.8,918.7 L742.2,917.5 L743.7,916.2 L745.3,914.7 L747.0,913.0 L748.8,911.1 L750.7,909.1 L752.6,906.9 L754.6,904.6 L756.6,902.3 L758.6,899.8 L760.6,897.3 L762.6,894.7 L764.6,892.0 L766.6,889.2 L768.7,886.4 L770.8,883.4 L772.8,880.4 L774.8,877.4 L776.6,874.3 L778.2,871.2 L779.7,868.2 L781.0,865.2 L782.1,862.2 L783.2,859.1 L784.3,856.0 L785.4,852.8 L786.6,849.5 L788.0,846.0 L789.6,842.3 L791.2,838.3 L792.9,834.1 L794.7,829.8 L796.6,825.6 L798.4,821.6 L800.3,817.9 L802.2,814.6 L804.1,811.7 L806.0,809.1 L808.0,806.7 L810.0,804.6 L812.0,802.6 L814.0,800.7 L816.0,799.0 L818.0,797.3 L820.0,795.7 L821.9,794.3 L823.9,793.0 L825.9,791.9 L827.8,790.8 L829.8,789.8 L831.8,788.8 L833.8,787.8 L835.7,786.9 L837.7,786.1 L839.7,785.5 L841.6,784.8 L843.6,784.2 L845.6,783.4 L847.5,782.6 L849.5,781.5 L851.5,780.2 L853.5,778.7 L855.6,777.1 L857.6,775.4 L859.6,773.6 L861.6,771.9 L863.5,770.3 L865.3,768.9 L867.0,767.5 L868.7,766.2 L870.3,764.9 L871.9,763.6 L873.4,762.5 L874.9,761.5 L876.4,760.7 L877.9,760.2 L879.4,759.9 L880.8,759.8 L882.2,759.8 L883.6,760.1 L884.9,760.5 L886.3,761.0 L887.6,761.7 L889.0,762.6 L890.4,763.6 L891.7,764.7 L893.1,766.0 L894.4,767.5 L895.8,769.1 L897.1,770.9 L898.5,773.0 L900.0,775.2 L901.5,777.7 L903.1,780.5 L904.7,783.4 L906.3,786.6 L907.9,789.9 L909.5,793.4 L911.1,796.9 L912.6,800.4 L914.0,804.0 L915.4,807.9 L916.8,811.8 L918.2,815.8 L919.5,819.9 L920.9,824.0 L922.3,828.0 L923.7,832.0 L925.2,835.9 L926.6,839.9 L928.0,843.8 L929.5,847.8 L931.0,851.7 L932.6,855.6 L934.4,859.6 L936.3,863.5 L938.4,867.5 L940.7,871.7 L943.2,875.9 L945.8,880.0 L948.3,884.1 L950.9,888.0 L953.3,891.7 L955.6,895.0 L957.7,898.0 L959.8,900.6 L961.7,903.0 L963.7,905.2 L965.5,907.3 L967.4,909.4 L969.3,911.5 L971.2,913.8 L973.2,916.1 L975.2,918.6 L977.1,921.1 L979.1,923.5 L981.0,925.9 L983.0,928.3 L984.9,930.5 L986.9,932.5 L988.7,934.4 L990.4,936.1 L992.1,937.7 L993.7,939.2 L995.5,940.7 L997.5,942.1 L999.8,943.6 L1002.5,945.0 L1005.7,946.5 L1009.2,948.0 L1013.1,949.4 L1017.1,950.9 L1021.3,952.3 L1025.6,953.6 L1029.7,954.9 L1033.8,956.0 L1037.7,957.0 L1041.6,957.9 L1045.5,958.8 L1049.4,959.5 L1053.3,960.3 L1057.2,960.9 L1061.1,961.6 L1065.0,962.2 L1068.8,962.8 L1072.5,963.3 L1076.2,963.8 L1079.8,964.3 L1083.6,964.7 L1087.6,965.1 L1091.7,965.6 L1096.2,966.0 L1100.5,966.4 L1104.1,966.9 L1107.6,967.3 L1111.5,967.7 L1116.1,968.1 L1122.1,968.5 L1129.9,968.8 L1140.0,969.2 L1153.7,969.6 L1171.1,969.9 L1190.9,970.3 L1211.7,970.7 L1232.2,971.0 L1251.0,971.3 L1266.7,971.5 L1278.0,971.7" fill="none" stroke="#eb0a14" stroke-width="3.9" stroke-linejoin="round" stroke-linecap="round" />
<line x1="147.2" y1="0" x2="147.2" y2="985.5" stroke="#4a4a4a" stroke-width="2"/>
<line x1="146" y1="1.1" x2="1280" y2="1.1" stroke="#000" stroke-width="2.2"/>
<line x1="1279" y1="0" x2="1279" y2="985.5" stroke="#111" stroke-width="2.2"/>
<line x1="146.2" y1="984.5" x2="1280" y2="984.5" stroke="#6e746e" stroke-width="2"/>
<line x1="1279.7" y1="984.5" x2="1279.7" y2="979.5" stroke="#6e6e6e" stroke-width="2.2"/>
<line x1="1176.7" y1="984.5" x2="1176.7" y2="977.5" stroke="#6e6e6e" stroke-width="2.2"/>
<line x1="1073.8" y1="984.5" x2="1073.8" y2="979.5" stroke="#6e6e6e" stroke-width="2.2"/>
<line x1="970.8" y1="984.5" x2="970.8" y2="977.5" stroke="#6e6e6e" stroke-width="2.2"/>
<line x1="867.8" y1="984.5" x2="867.8" y2="979.5" stroke="#6e6e6e" stroke-width="2.2"/>
<line x1="764.9" y1="984.5" x2="764.9" y2="977.5" stroke="#6e6e6e" stroke-width="2.2"/>
<line x1="662.0" y1="984.5" x2="662.0" y2="979.5" stroke="#6e6e6e" stroke-width="2.2"/>
<line x1="559.0" y1="984.5" x2="559.0" y2="977.5" stroke="#6e6e6e" stroke-width="2.2"/>
<line x1="456.1" y1="984.5" x2="456.1" y2="979.5" stroke="#6e6e6e" stroke-width="2.2"/>
<line x1="353.1" y1="984.5" x2="353.1" y2="977.5" stroke="#6e6e6e" stroke-width="2.2"/>
<line x1="250.1" y1="984.5" x2="250.1" y2="979.5" stroke="#6e6e6e" stroke-width="2.2"/>
<line x1="147.2" y1="984.5" x2="147.2" y2="977.5" stroke="#6e6e6e" stroke-width="2.2"/>
<text x="1136.93" y="1031" font-size="47.89" textLength="79.53" lengthAdjust="spacingAndGlyphs" font-family="Liberation Sans, sans-serif">282</text>
<text x="931.03" y="1031" font-size="47.89" textLength="79.53" lengthAdjust="spacingAndGlyphs" font-family="Liberation Sans, sans-serif">284</text>
<text x="725.13" y="1031" font-size="47.89" textLength="79.53" lengthAdjust="spacingAndGlyphs" font-family="Liberation Sans, sans-serif">286</text>
<text x="519.23" y="1031" font-size="47.89" textLength="79.53" lengthAdjust="spacingAndGlyphs" font-family="Liberation Sans, sans-serif">288</text>
<text x="313.33" y="1031" font-size="47.89" textLength="79.53" lengthAdjust="spacingAndGlyphs" font-family="Liberation Sans, sans-serif">290</text>
<text x="107.43" y="1031" font-size="47.89" textLength="79.53" lengthAdjust="spacingAndGlyphs" font-family="Liberation Sans, sans-serif">292</text>
<text x="409.51" y="1125.30" font-size="70.20" textLength="606.62" lengthAdjust="spacingAndGlyphs" font-family="Liberation Sans, sans-serif" >Binding Energy / eV</text>
<g transform="translate(59.6,950.2) rotate(-90)"><text x="-7.35" y="0.00" font-size="83.87" textLength="867.24" lengthAdjust="spacingAndGlyphs" font-family="Liberation Sans, sans-serif" >Intensity / arbitrary units</text></g>
<text x="152.51" y="47.50" font-size="37.79" textLength="311.58" lengthAdjust="spacingAndGlyphs" font-family="Liberation Sans, sans-serif" >Full cell – NMC salt</text>
<text x="159.79" y="394.70" font-size="37.79" textLength="276.93" lengthAdjust="spacingAndGlyphs" font-family="Liberation Sans, sans-serif" >Full cell – No salt</text>
<text x="162.72" y="710.30" font-size="38.34" textLength="88.89" lengthAdjust="spacingAndGlyphs" font-family="Liberation Sans, sans-serif" >Fresh</text>
<text stroke="#111" stroke-width="0.45" x="246.06" y="238.70" font-size="29.66" textLength="22.73" lengthAdjust="spacingAndGlyphs" font-family="Liberation Sans, sans-serif" >Li</text>
<text stroke="#111" stroke-width="0.45" x="269.49" y="246.00" font-size="21.00" textLength="11.25" lengthAdjust="spacingAndGlyphs" font-family="Liberation Sans, sans-serif" >2</text>
<text stroke="#111" stroke-width="0.45" x="281.44" y="238.70" font-size="31.71" textLength="40.71" lengthAdjust="spacingAndGlyphs" font-family="Liberation Sans, sans-serif" >CO</text>
<text stroke="#111" stroke-width="0.45" x="321.50" y="246.00" font-size="21.00" textLength="11.12" lengthAdjust="spacingAndGlyphs" font-family="Liberation Sans, sans-serif" >3</text>
<text stroke="#111" stroke-width="0.45" x="399.29" y="547.30" font-size="29.71" textLength="82.89" lengthAdjust="spacingAndGlyphs" font-family="Liberation Sans, sans-serif" >ROCO</text>
<text stroke="#111" stroke-width="0.45" x="480.76" y="555.00" font-size="22.14" textLength="12.71" lengthAdjust="spacingAndGlyphs" font-family="Liberation Sans, sans-serif" >2</text>
<text stroke="#111" stroke-width="0.45" x="492.78" y="547.30" font-size="28.69" textLength="21.62" lengthAdjust="spacingAndGlyphs" font-family="Liberation Sans, sans-serif" >Li</text>
<text stroke="#111" stroke-width="0.45" x="644.90" y="516.00" font-size="30.71" textLength="51.35" lengthAdjust="spacingAndGlyphs" font-family="Liberation Sans, sans-serif" >C-O</text>
<text stroke="#111" stroke-width="0.45" x="733.85" y="784.00" font-size="30.86" textLength="38.92" lengthAdjust="spacingAndGlyphs" font-family="Liberation Sans, sans-serif" >CH</text>
<text stroke="#111" stroke-width="0.45" x="772.98" y="791.40" font-size="22.00" textLength="11.37" lengthAdjust="spacingAndGlyphs" font-family="Liberation Sans, sans-serif" >2</text>
<text stroke="#111" stroke-width="0.45" x="783.99" y="784.00" font-size="29.50" textLength="11.15" lengthAdjust="spacingAndGlyphs" font-family="Liberation Sans, sans-serif" >-</text>
<text stroke="#111" stroke-width="0.45" x="925.02" y="752.90" font-size="31.59" textLength="121.32" lengthAdjust="spacingAndGlyphs" font-family="Liberation Sans, sans-serif" >Graphite</text>
<text stroke="#111" stroke-width="0.45" x="468.29" y="889.50" font-size="31.01" textLength="73.78" lengthAdjust="spacingAndGlyphs" font-family="Liberation Sans, sans-serif" >PVDF</text>
<line x1="296.9" y1="249.7" x2="296.9" y2="334.5" stroke="#000" stroke-width="4.8" stroke-linecap="butt"/><path d="M287.7,316.6 L296.9,334.5 L306.7,316.6" fill="none" stroke="#000" stroke-width="4.8" stroke-linejoin="miter" stroke-miterlimit="10" stroke-linecap="round"/>
<line x1="425" y1="555" x2="386" y2="637.5" stroke="#000" stroke-width="4.8" stroke-linecap="butt"/><path d="M384.5,621.6 L386,637.5 L401.7,627.8" fill="none" stroke="#000" stroke-width="4.8" stroke-linejoin="miter" stroke-miterlimit="10" stroke-linecap="round"/>
<line x1="671.7" y1="524.5" x2="700.8" y2="640" stroke="#000" stroke-width="4.8" stroke-linecap="butt"/><path d="M688.1,628.1 L700.8,640 L705.6,622" fill="none" stroke="#000" stroke-width="4.8" stroke-linejoin="miter" stroke-miterlimit="10" stroke-linecap="round"/>
<line x1="769.9" y1="795.7" x2="793.5" y2="878.5" stroke="#000" stroke-width="4.8" stroke-linecap="butt"/><path d="M783,869.7 L793.5,878.5 L798.6,863.4" fill="none" stroke="#000" stroke-width="4.8" stroke-linejoin="miter" stroke-miterlimit="10" stroke-linecap="round"/>
<line x1="951" y1="762" x2="885" y2="835" stroke="#000" stroke-width="4.8" stroke-linecap="butt"/><path d="M885.8,817.8 L885,835 L903.2,829.6" fill="none" stroke="#000" stroke-width="4.8" stroke-linejoin="miter" stroke-miterlimit="10" stroke-linecap="round"/>
<line x1="484.8" y1="892" x2="459" y2="956.5" stroke="#000" stroke-width="4.8" stroke-linecap="butt"/><path d="M456.4,939 L459,956.5 L475,943.75" fill="none" stroke="#000" stroke-width="4.8" stroke-linejoin="miter" stroke-miterlimit="10" stroke-linecap="round"/></svg></body></html>
